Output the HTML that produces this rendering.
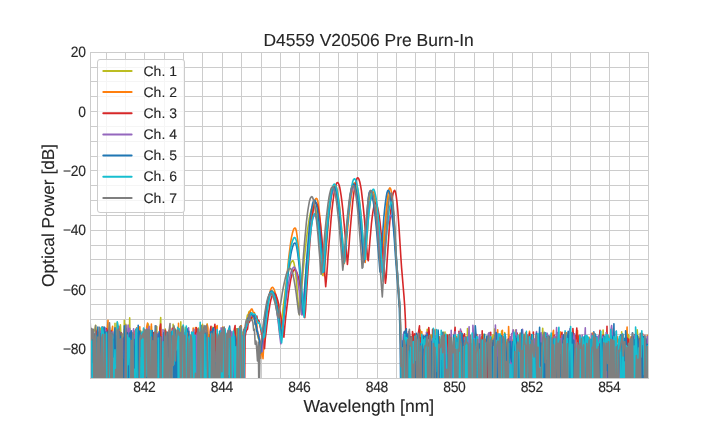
<!DOCTYPE html>
<html><head><meta charset="utf-8"><style>
html,body{margin:0;padding:0;background:#fff;}
svg{display:block;will-change:transform;text-rendering:geometricPrecision;}
text{stroke:#262626;stroke-width:0.12px;font-family:"Liberation Sans",sans-serif;}
</style></head><body>
<svg width="720" height="432" viewBox="0 0 720 432">
<defs><clipPath id="ax"><rect x="90.5" y="52.5" width="558" height="326"/></clipPath></defs>
<rect width="720" height="432" fill="#fff"/>
<g fill="#cccccc" shape-rendering="crispEdges"><rect x="106" y="52" width="1" height="326"/><rect x="125" y="52" width="1" height="326"/><rect x="144" y="52" width="1" height="326"/><rect x="164" y="52" width="1" height="326"/><rect x="183" y="52" width="1" height="326"/><rect x="202" y="52" width="1" height="326"/><rect x="222" y="52" width="1" height="326"/><rect x="241" y="52" width="1" height="326"/><rect x="261" y="52" width="1" height="326"/><rect x="280" y="52" width="1" height="326"/><rect x="299" y="52" width="1" height="326"/><rect x="319" y="52" width="1" height="326"/><rect x="338" y="52" width="1" height="326"/><rect x="357" y="52" width="1" height="326"/><rect x="377" y="52" width="1" height="326"/><rect x="396" y="52" width="1" height="326"/><rect x="415" y="52" width="1" height="326"/><rect x="435" y="52" width="1" height="326"/><rect x="454" y="52" width="1" height="326"/><rect x="474" y="52" width="1" height="326"/><rect x="493" y="52" width="1" height="326"/><rect x="512" y="52" width="1" height="326"/><rect x="532" y="52" width="1" height="326"/><rect x="551" y="52" width="1" height="326"/><rect x="570" y="52" width="1" height="326"/><rect x="590" y="52" width="1" height="326"/><rect x="609" y="52" width="1" height="326"/><rect x="629" y="52" width="1" height="326"/><rect x="90" y="363" width="558" height="1"/><rect x="90" y="348" width="558" height="1"/><rect x="90" y="334" width="558" height="1"/><rect x="90" y="319" width="558" height="1"/><rect x="90" y="304" width="558" height="1"/><rect x="90" y="289" width="558" height="1"/><rect x="90" y="274" width="558" height="1"/><rect x="90" y="259" width="558" height="1"/><rect x="90" y="245" width="558" height="1"/><rect x="90" y="230" width="558" height="1"/><rect x="90" y="215" width="558" height="1"/><rect x="90" y="200" width="558" height="1"/><rect x="90" y="185" width="558" height="1"/><rect x="90" y="170" width="558" height="1"/><rect x="90" y="156" width="558" height="1"/><rect x="90" y="141" width="558" height="1"/><rect x="90" y="126" width="558" height="1"/><rect x="90" y="111" width="558" height="1"/><rect x="90" y="96" width="558" height="1"/><rect x="90" y="81" width="558" height="1"/><rect x="90" y="67" width="558" height="1"/></g>
<g clip-path="url(#ax)" fill="none" stroke-width="1.6" stroke-linejoin="round" stroke-linecap="round">
<path d="M90.2,408.2 91.0,377.5 91.7,334.9 92.5,408.2 93.3,331.4 94.1,331.0 94.8,329.8 95.6,325.4 96.4,333.0 97.1,408.2 97.9,332.4 98.7,332.5 99.5,408.2 100.2,328.4 101.0,408.2 101.8,408.2 102.6,327.6 103.3,333.6 104.1,408.2 104.9,367.9 105.7,376.5 106.4,377.3 107.2,365.1 108.0,370.2 108.8,408.2 109.5,338.5 110.3,344.6 111.1,335.5 111.9,331.0 112.6,333.3 113.4,368.4 114.2,408.2 115.0,323.2 115.7,408.2 116.5,333.7 117.3,322.2 118.1,376.2 118.8,331.9 119.6,408.2 120.4,324.9 121.2,339.7 121.9,334.1 122.7,361.2 123.5,408.2 124.3,320.2 125.0,408.2 125.8,324.3 126.6,408.2 127.4,340.0 128.1,343.5 128.9,351.3 129.7,317.9 130.5,373.6 131.2,408.2 132.0,336.2 132.8,408.2 133.6,408.2 134.3,336.4 135.1,408.2 135.9,329.9 136.7,351.8 137.4,335.7 138.2,408.2 139.0,408.2 139.8,337.6 140.5,330.5 141.3,332.8 142.1,408.2 142.9,408.2 143.6,408.2 144.4,408.2 145.2,331.6 146.0,408.2 146.7,408.2 147.5,373.9 148.3,324.1 149.1,335.7 149.8,337.1 150.6,343.5 151.4,326.4 152.2,408.2 152.9,408.2 153.7,335.7 154.5,408.2 155.3,331.6 156.0,408.2 156.8,326.6 157.6,408.2 158.4,335.6 159.1,408.2 159.9,331.3 160.7,317.6 161.5,408.2 162.2,408.2 163.0,408.2 163.8,408.2 164.6,408.2 165.3,329.1 166.1,408.2 166.9,332.0 167.7,408.2 168.4,408.2 169.2,352.6 170.0,345.5 170.8,333.2 171.5,343.1 172.3,408.2 173.1,324.4 173.9,364.7 174.6,336.7 175.4,329.4 176.2,408.2 177.0,338.4 177.7,335.2 178.5,331.5 179.3,334.5 180.1,408.2 180.8,321.9 181.6,408.2 182.4,378.6 183.2,336.1 183.9,348.1 184.7,408.2 185.5,327.6 186.3,336.6 187.0,331.5 187.8,344.6 188.6,408.2 189.4,408.2 190.1,408.2 190.9,362.3 191.7,340.5 192.5,333.5 193.2,408.2 194.0,408.2 194.8,408.2 195.5,408.2 196.3,335.5 197.1,367.8 197.9,343.9 198.6,328.0 199.4,358.0 200.2,335.5 201.0,346.4 201.7,344.5 202.5,324.4 203.3,408.2 204.1,336.3 204.8,408.2 205.6,336.4 206.4,341.1 207.2,324.1 207.9,368.2 208.7,334.5 209.5,408.2 210.3,331.7 211.0,356.4 211.8,408.2 212.6,327.3 213.4,408.2 214.1,365.4 214.9,330.8 215.7,408.2 216.5,369.8 217.2,408.2 218.0,334.1 218.8,408.2 219.6,358.4 220.3,335.3 221.1,373.2 221.9,408.2 222.7,343.3 223.4,330.3 224.2,368.8 225.0,340.1 225.8,408.2 226.5,408.2 227.3,377.3 228.1,376.9 228.9,328.6 229.6,408.2 230.4,408.2 231.2,337.8 232.0,354.3 232.7,408.2 233.5,340.1 234.3,408.2 235.1,350.4 235.8,408.2 236.6,328.9 237.4,347.3 238.2,408.2 238.9,331.6 239.7,361.3 240.5,408.2 241.3,408.2 242.0,332.1 242.8,408.2 243.6,408.2 244.4,337.8 245.1,328.2 245.9,327.3 246.7,319.1 247.5,314.9 248.2,314.7 249.0,311.7 249.8,311.0 250.6,312.1 251.3,314.6 252.1,313.4 252.9,318.1 253.7,316.3 254.4,319.9 255.2,323.6 256.0,327.4 256.8,331.8 257.5,334.5 258.3,338.6 259.1,339.0 259.9,344.4 260.6,346.2 261.4,343.6 262.2,335.8 263.0,328.6 263.7,324.1 264.5,318.0 265.3,313.5 266.1,308.7 266.8,304.7 267.6,300.9 268.4,297.9 269.2,295.3 269.9,293.2 270.7,291.9 271.5,291.1 272.3,291.1 273.0,292.0 273.8,293.8 274.6,296.7 275.4,300.3 276.1,304.9 276.9,310.1 277.7,316.1 278.5,321.7 279.2,328.7 280.0,335.5 280.8,329.4 281.6,322.2 282.3,314.9 283.1,308.2 283.9,301.7 284.7,295.7 285.4,289.8 286.2,284.5 287.0,279.5 287.8,275.1 288.5,271.2 289.3,267.9 290.1,265.2 290.8,263.1 291.6,261.7 292.4,260.9 293.2,260.9 293.9,262.7 294.7,266.5 295.5,272.2 296.3,279.5 297.0,288.3 297.8,298.1 298.6,308.5 299.4,314.7 300.1,305.7 300.9,296.7 301.7,287.6 302.5,278.9 303.2,270.4 304.0,262.2 304.8,254.3 305.6,246.9 306.3,240.0 307.1,233.6 307.9,227.7 308.7,222.4 309.4,217.8 310.2,213.9 311.0,210.6 311.8,208.1 312.5,206.3 313.3,205.3 314.1,205.0 314.9,205.9 315.6,208.3 316.4,212.1 317.2,217.2 318.0,223.5 318.7,230.9 319.5,239.3 320.3,248.4 321.1,258.2 321.8,268.3 322.6,275.5 323.4,265.9 324.2,256.5 324.9,247.2 325.7,238.3 326.5,229.8 327.3,221.9 328.0,214.5 328.8,207.9 329.6,202.0 330.4,197.0 331.1,192.9 331.9,189.7 332.7,187.5 333.5,186.2 334.2,186.1 335.0,187.0 335.8,189.1 336.6,192.4 337.3,196.7 338.1,202.1 338.9,208.4 339.7,215.6 340.4,223.5 341.2,232.1 342.0,241.1 342.8,250.5 343.5,260.2 344.3,261.9 345.1,251.9 345.9,242.1 346.6,232.6 347.4,223.6 348.2,215.3 349.0,207.7 349.7,200.9 350.5,195.2 351.3,190.4 352.1,186.8 352.8,184.4 353.6,183.2 354.4,183.2 355.2,184.4 355.9,186.8 356.7,190.4 357.5,195.1 358.3,200.9 359.0,207.6 359.8,215.2 360.6,223.5 361.4,232.5 362.1,242.0 362.9,251.8 363.7,261.8 364.5,259.0 365.2,247.4 366.0,236.2 366.8,225.9 367.6,216.5 368.3,208.5 369.1,202.0 369.9,197.2 370.7,194.1 371.4,193.0 372.2,193.5 373.0,195.3 373.8,198.4 374.5,202.6 375.3,208.0 376.1,214.5 376.9,221.9 377.6,230.1 378.4,239.0 379.2,248.5 380.0,258.5 380.7,268.6 381.5,272.0 382.3,260.8 383.1,250.0 383.8,239.6 384.6,230.0 385.4,221.2 386.2,213.5 386.9,207.0 387.7,201.8 388.5,198.0 389.2,195.7 390.0,195.0 390.8,196.3 391.6,199.9 392.3,205.8 393.1,213.7 393.9,223.3 394.7,234.2 395.4,246.1 396.2,258.3 397.0,269.2 397.8,280.0 398.5,290.9 399.3,301.7 400.1,312.3 400.9,351.2 401.6,408.2 402.4,349.3 403.2,342.6 404.0,332.3 404.7,408.2 405.5,408.2 406.3,339.5 407.1,408.2 407.8,348.7 408.6,408.2 409.4,408.2 410.2,408.2 410.9,339.7 411.7,408.2 412.5,408.2 413.3,341.3 414.0,408.2 414.8,341.7 415.6,350.0 416.4,343.4 417.1,408.2 417.9,347.3 418.7,366.8 419.5,358.0 420.2,330.1 421.0,338.9 421.8,338.9 422.6,339.6 423.3,408.2 424.1,408.2 424.9,351.2 425.7,338.5 426.4,345.3 427.2,329.3 428.0,375.3 428.8,343.2 429.5,353.6 430.3,338.0 431.1,334.9 431.9,340.5 432.6,352.2 433.4,340.4 434.2,332.2 435.0,368.3 435.7,347.2 436.5,408.2 437.3,337.0 438.1,408.2 438.8,341.8 439.6,408.2 440.4,339.5 441.2,373.9 441.9,340.5 442.7,332.3 443.5,408.2 444.3,350.8 445.0,332.1 445.8,408.2 446.6,334.5 447.4,338.4 448.1,408.2 448.9,360.5 449.7,408.2 450.5,408.2 451.2,350.9 452.0,365.6 452.8,408.2 453.6,336.9 454.3,408.2 455.1,408.2 455.9,408.2 456.7,408.2 457.4,408.2 458.2,373.7 459.0,408.2 459.8,408.2 460.5,408.2 461.3,338.7 462.1,340.2 462.9,408.2 463.6,408.2 464.4,344.3 465.2,408.2 466.0,408.2 466.7,375.1 467.5,328.5 468.3,408.2 469.1,408.2 469.8,345.5 470.6,351.9 471.4,408.2 472.2,374.2 472.9,408.2 473.7,408.2 474.5,336.8 475.3,408.2 476.0,359.2 476.8,408.2 477.6,408.2 478.4,408.2 479.1,408.2 479.9,408.2 480.7,408.2 481.5,336.9 482.2,351.1 483.0,334.0 483.8,336.9 484.5,334.8 485.3,408.2 486.1,374.1 486.9,408.2 487.6,339.7 488.4,344.0 489.2,341.3 490.0,332.7 490.7,408.2 491.5,408.2 492.3,340.9 493.1,334.7 493.8,408.2 494.6,329.0 495.4,408.2 496.2,408.2 496.9,338.3 497.7,340.3 498.5,408.2 499.3,376.0 500.0,338.3 500.8,357.7 501.6,331.0 502.4,336.8 503.1,336.6 503.9,408.2 504.7,332.5 505.5,408.2 506.2,354.5 507.0,339.8 507.8,408.2 508.6,378.4 509.3,336.1 510.1,408.2 510.9,408.2 511.7,357.7 512.4,408.2 513.2,359.5 514.0,408.2 514.8,408.2 515.5,330.1 516.3,342.3 517.1,341.3 517.9,372.8 518.6,408.2 519.4,334.6 520.2,408.2 521.0,382.9 521.7,334.0 522.5,408.2 523.3,350.1 524.1,340.4 524.8,342.5 525.6,408.2 526.4,408.2 527.2,348.4 527.9,357.9 528.7,408.2 529.5,355.9 530.3,408.2 531.0,408.2 531.8,342.4 532.6,336.0 533.4,345.6 534.1,408.2 534.9,378.8 535.7,408.2 536.5,408.2 537.2,408.2 538.0,369.7 538.8,408.2 539.6,338.6 540.3,339.1 541.1,342.4 541.9,343.6 542.7,328.3 543.4,344.2 544.2,364.4 545.0,408.2 545.8,408.2 546.5,371.1 547.3,408.2 548.1,408.2 548.9,408.2 549.6,408.2 550.4,335.5 551.2,408.2 552.0,340.2 552.7,408.2 553.5,341.7 554.3,408.2 555.1,379.4 555.8,343.4 556.6,350.7 557.4,365.6 558.2,408.2 558.9,335.2 559.7,408.2 560.5,332.4 561.3,334.1 562.0,408.2 562.8,339.5 563.6,337.1 564.4,408.2 565.1,341.9 565.9,368.0 566.7,338.2 567.5,379.8 568.2,366.2 569.0,408.2 569.8,335.7 570.6,347.4 571.3,341.1 572.1,332.2 572.9,408.2 573.7,408.2 574.4,408.2 575.2,408.2 576.0,378.5 576.8,381.3 577.5,408.2 578.3,336.2 579.1,408.2 579.9,408.2 580.6,367.2 581.4,350.7 582.2,357.3 582.9,408.2 583.7,343.8 584.5,349.6 585.3,408.2 586.0,342.6 586.8,408.2 587.6,408.2 588.4,339.8 589.1,384.4 589.9,340.5 590.7,408.2 591.5,383.9 592.2,408.2 593.0,353.3 593.8,339.9 594.6,408.2 595.3,408.2 596.1,342.0 596.9,345.0 597.7,347.4 598.4,343.2 599.2,408.2 600.0,352.7 600.8,335.2 601.5,355.6 602.3,408.2 603.1,330.0 603.9,344.4 604.6,408.2 605.4,346.8 606.2,408.2 607.0,338.3 607.7,340.2 608.5,335.9 609.3,352.8 610.1,337.2 610.8,408.2 611.6,408.2 612.4,343.6 613.2,329.1 613.9,343.2 614.7,408.2 615.5,408.2 616.3,357.2 617.0,408.2 617.8,408.2 618.6,408.2 619.4,408.2 620.1,367.9 620.9,350.0 621.7,331.9 622.5,408.2 623.2,408.2 624.0,408.2 624.8,350.7 625.6,408.2 626.3,334.1 627.1,408.2 627.9,334.2 628.7,335.2 629.4,408.2 630.2,345.3 631.0,369.6 631.8,342.0 632.5,335.5 633.3,408.2 634.1,382.2 634.9,408.2 635.6,408.2 636.4,408.2 637.2,329.8 638.0,338.8 638.7,337.0 639.5,368.9 640.3,345.9 641.1,380.0 641.8,340.5 642.6,341.8 643.4,408.2 644.2,408.2 644.9,376.4 645.7,358.0 646.5,341.5 647.3,408.2 648.0,408.2" stroke="#bcbd22"/>
<path d="M90.2,329.4 91.0,408.2 91.7,346.0 92.5,408.2 93.3,333.7 94.1,383.8 94.8,356.8 95.6,408.2 96.4,330.8 97.1,330.0 97.9,408.2 98.7,408.2 99.5,338.4 100.2,331.9 101.0,408.2 101.8,408.2 102.6,383.8 103.3,328.5 104.1,331.1 104.9,408.2 105.7,355.0 106.4,373.1 107.2,331.6 108.0,320.3 108.8,408.2 109.5,408.2 110.3,408.2 111.1,340.3 111.9,330.3 112.6,326.4 113.4,372.4 114.2,408.2 115.0,336.8 115.7,408.2 116.5,408.2 117.3,323.6 118.1,408.2 118.8,366.6 119.6,358.1 120.4,339.0 121.2,408.2 121.9,363.4 122.7,338.7 123.5,408.2 124.3,329.4 125.0,334.2 125.8,329.0 126.6,408.2 127.4,408.2 128.1,374.4 128.9,408.2 129.7,338.5 130.5,372.9 131.2,339.3 132.0,408.2 132.8,338.1 133.6,370.9 134.3,408.2 135.1,331.0 135.9,384.5 136.7,327.7 137.4,408.2 138.2,364.0 139.0,330.6 139.8,326.7 140.5,408.2 141.3,333.0 142.1,339.0 142.9,408.2 143.6,328.7 144.4,408.2 145.2,331.9 146.0,341.8 146.7,326.9 147.5,323.1 148.3,408.2 149.1,334.8 149.8,408.2 150.6,348.2 151.4,324.0 152.2,408.2 152.9,408.2 153.7,408.2 154.5,333.1 155.3,378.4 156.0,332.3 156.8,375.0 157.6,333.4 158.4,408.2 159.1,382.2 159.9,408.2 160.7,353.3 161.5,336.5 162.2,408.2 163.0,408.2 163.8,408.2 164.6,336.9 165.3,336.2 166.1,408.2 166.9,408.2 167.7,335.5 168.4,363.5 169.2,334.3 170.0,332.8 170.8,332.6 171.5,408.2 172.3,329.4 173.1,328.3 173.9,356.3 174.6,328.3 175.4,351.0 176.2,408.2 177.0,330.4 177.7,408.2 178.5,323.3 179.3,408.2 180.1,375.2 180.8,343.4 181.6,408.2 182.4,408.2 183.2,363.7 183.9,348.0 184.7,339.1 185.5,335.9 186.3,408.2 187.0,408.2 187.8,408.2 188.6,334.9 189.4,408.2 190.1,361.6 190.9,380.1 191.7,369.2 192.5,346.3 193.2,328.0 194.0,408.2 194.8,408.2 195.5,327.6 196.3,408.2 197.1,348.4 197.9,408.2 198.6,350.5 199.4,333.0 200.2,335.8 201.0,408.2 201.7,408.2 202.5,333.9 203.3,408.2 204.1,332.3 204.8,331.6 205.6,408.2 206.4,335.3 207.2,324.3 207.9,327.7 208.7,408.2 209.5,337.0 210.3,408.2 211.0,408.2 211.8,358.6 212.6,331.3 213.4,408.2 214.1,408.2 214.9,337.7 215.7,327.0 216.5,326.6 217.2,325.7 218.0,408.2 218.8,337.3 219.6,408.2 220.3,408.2 221.1,408.2 221.9,329.3 222.7,327.1 223.4,328.0 224.2,355.7 225.0,408.2 225.8,370.9 226.5,408.2 227.3,408.2 228.1,336.6 228.9,408.2 229.6,408.2 230.4,408.2 231.2,408.2 232.0,408.2 232.7,339.9 233.5,382.2 234.3,408.2 235.1,333.5 235.8,333.0 236.6,408.2 237.4,408.2 238.2,336.9 238.9,338.5 239.7,326.7 240.5,334.3 241.3,325.8 242.0,408.2 242.8,408.2 243.6,408.2 244.4,335.8 245.1,330.3 245.9,325.6 246.7,323.6 247.5,320.9 248.2,318.9 249.0,312.9 249.8,312.7 250.6,310.6 251.3,309.0 252.1,309.0 252.9,311.3 253.7,312.6 254.4,312.6 255.2,317.2 256.0,319.3 256.8,323.2 257.5,332.3 258.3,334.1 259.1,336.1 259.9,344.7 260.6,358.3 261.4,351.6 262.2,349.2 263.0,358.8 263.7,345.9 264.5,335.0 265.3,327.4 266.1,319.7 266.8,312.5 267.6,305.8 268.4,300.4 269.2,295.9 269.9,292.2 270.7,289.5 271.5,287.9 272.3,287.3 273.0,287.6 273.8,288.8 274.6,290.7 275.4,293.4 276.1,296.8 276.9,300.8 277.7,305.4 278.5,310.6 279.2,315.7 280.0,322.1 280.8,327.3 281.6,335.2 282.3,334.5 283.1,323.3 283.9,313.3 284.7,303.3 285.4,293.7 286.2,284.4 287.0,275.8 287.8,267.5 288.5,259.9 289.3,253.0 290.1,246.8 290.8,241.5 291.6,236.9 292.4,233.3 293.2,230.6 293.9,228.8 294.7,228.0 295.5,228.3 296.3,230.7 297.0,235.1 297.8,241.4 298.6,249.5 299.4,259.1 300.1,270.1 300.9,282.3 301.7,295.2 302.5,308.4 303.2,314.7 304.0,303.8 304.8,293.2 305.6,282.7 306.3,272.6 307.1,262.8 307.9,253.4 308.7,244.6 309.4,236.4 310.2,228.9 311.0,222.0 311.8,216.0 312.5,210.8 313.3,206.4 314.1,203.0 314.9,200.5 315.6,198.9 316.4,198.3 317.2,199.1 318.0,202.0 318.7,206.9 319.5,213.7 320.3,222.1 321.1,232.1 321.8,243.2 322.6,255.2 323.4,267.9 324.2,275.8 324.9,265.5 325.7,255.4 326.5,245.6 327.3,236.2 328.0,227.3 328.8,219.0 329.6,211.4 330.4,204.6 331.1,198.8 331.9,193.9 332.7,190.0 333.5,187.2 334.2,185.5 335.0,185.0 335.8,185.7 336.6,187.7 337.3,191.0 338.1,195.5 338.9,201.2 339.7,207.9 340.4,215.6 341.2,224.1 342.0,233.3 342.8,243.0 343.5,253.1 344.3,263.5 345.1,258.9 345.9,249.5 346.6,240.3 347.4,231.5 348.2,223.2 349.0,215.3 349.7,208.2 350.5,201.8 351.3,196.2 352.1,191.5 352.8,187.8 353.6,185.1 354.4,183.4 355.2,182.8 355.9,183.4 356.7,185.2 357.5,188.3 358.3,192.6 359.0,198.0 359.8,204.5 360.6,211.9 361.4,220.1 362.1,229.1 362.9,238.6 363.7,248.5 364.5,258.8 365.2,262.5 366.0,251.1 366.8,239.9 367.6,229.4 368.3,219.8 369.1,211.3 369.9,204.2 370.7,198.5 371.4,194.5 372.2,192.2 373.0,191.7 373.8,192.8 374.5,195.3 375.3,199.3 376.1,204.6 376.9,211.1 377.6,218.7 378.4,227.4 379.2,236.9 380.0,247.1 380.7,257.8 381.5,268.8 382.3,271.2 383.1,257.9 383.8,245.1 384.6,232.9 385.4,221.7 386.2,211.8 386.9,203.4 387.7,196.6 388.5,191.7 389.2,188.8 390.0,187.8 390.8,189.2 391.6,193.3 392.3,199.9 393.1,208.7 393.9,219.3 394.7,231.5 395.4,244.7 396.2,258.3 397.0,269.2 397.8,280.0 398.5,290.9 399.3,301.7 400.1,312.8 400.9,350.7 401.6,408.2 402.4,408.2 403.2,408.2 404.0,408.2 404.7,341.2 405.5,408.2 406.3,342.8 407.1,338.4 407.8,340.5 408.6,331.6 409.4,359.0 410.2,349.5 410.9,408.2 411.7,408.2 412.5,357.6 413.3,339.8 414.0,352.9 414.8,354.7 415.6,334.5 416.4,338.4 417.1,408.2 417.9,408.2 418.7,408.2 419.5,334.7 420.2,355.4 421.0,408.2 421.8,331.5 422.6,369.7 423.3,408.2 424.1,338.9 424.9,408.2 425.7,335.3 426.4,343.9 427.2,340.2 428.0,345.0 428.8,408.2 429.5,340.1 430.3,361.0 431.1,408.2 431.9,408.2 432.6,408.2 433.4,408.2 434.2,341.3 435.0,329.7 435.7,382.9 436.5,408.2 437.3,408.2 438.1,336.2 438.8,408.2 439.6,336.7 440.4,345.9 441.2,364.1 441.9,408.2 442.7,408.2 443.5,374.1 444.3,376.3 445.0,374.3 445.8,336.1 446.6,377.0 447.4,408.2 448.1,377.9 448.9,355.9 449.7,342.0 450.5,340.7 451.2,370.6 452.0,374.2 452.8,408.2 453.6,408.2 454.3,342.0 455.1,351.0 455.9,408.2 456.7,336.2 457.4,376.8 458.2,408.2 459.0,340.9 459.8,408.2 460.5,336.6 461.3,408.2 462.1,334.7 462.9,346.2 463.6,353.8 464.4,371.9 465.2,336.3 466.0,375.1 466.7,350.3 467.5,336.7 468.3,408.2 469.1,408.2 469.8,408.2 470.6,339.4 471.4,408.2 472.2,366.9 472.9,339.7 473.7,334.8 474.5,378.9 475.3,333.0 476.0,408.2 476.8,408.2 477.6,408.2 478.4,383.7 479.1,380.1 479.9,408.2 480.7,377.8 481.5,408.2 482.2,408.2 483.0,366.2 483.8,367.8 484.5,344.4 485.3,339.4 486.1,347.9 486.9,361.3 487.6,408.2 488.4,341.1 489.2,359.2 490.0,408.2 490.7,408.2 491.5,338.0 492.3,356.0 493.1,345.7 493.8,362.3 494.6,408.2 495.4,333.5 496.2,408.2 496.9,347.8 497.7,329.8 498.5,373.1 499.3,353.9 500.0,408.2 500.8,343.2 501.6,352.3 502.4,330.2 503.1,363.4 503.9,408.2 504.7,336.2 505.5,408.2 506.2,342.4 507.0,408.2 507.8,370.5 508.6,326.6 509.3,347.2 510.1,346.0 510.9,408.2 511.7,408.2 512.4,340.1 513.2,344.1 514.0,335.6 514.8,338.2 515.5,339.8 516.3,343.5 517.1,370.2 517.9,408.2 518.6,373.1 519.4,342.8 520.2,336.2 521.0,408.2 521.7,408.2 522.5,360.7 523.3,408.2 524.1,408.2 524.8,408.2 525.6,332.8 526.4,408.2 527.2,408.2 527.9,408.2 528.7,341.9 529.5,331.3 530.3,354.3 531.0,348.3 531.8,336.4 532.6,408.2 533.4,369.1 534.1,371.8 534.9,408.2 535.7,408.2 536.5,341.0 537.2,338.2 538.0,346.0 538.8,408.2 539.6,374.1 540.3,408.2 541.1,408.2 541.9,408.2 542.7,337.4 543.4,408.2 544.2,342.2 545.0,408.2 545.8,337.3 546.5,336.5 547.3,408.2 548.1,342.5 548.9,408.2 549.6,338.8 550.4,347.7 551.2,345.1 552.0,373.7 552.7,334.3 553.5,330.4 554.3,372.4 555.1,336.8 555.8,340.9 556.6,408.2 557.4,363.8 558.2,345.2 558.9,342.8 559.7,408.2 560.5,332.0 561.3,343.4 562.0,336.7 562.8,408.2 563.6,408.2 564.4,408.2 565.1,408.2 565.9,408.2 566.7,332.8 567.5,348.8 568.2,375.1 569.0,331.8 569.8,345.7 570.6,341.6 571.3,369.4 572.1,364.6 572.9,336.3 573.7,408.2 574.4,408.2 575.2,408.2 576.0,408.2 576.8,408.2 577.5,330.5 578.3,408.2 579.1,408.2 579.9,408.2 580.6,336.0 581.4,347.8 582.2,408.2 582.9,344.3 583.7,408.2 584.5,365.5 585.3,336.9 586.0,408.2 586.8,371.9 587.6,340.2 588.4,346.7 589.1,337.3 589.9,370.8 590.7,341.1 591.5,377.3 592.2,333.1 593.0,341.9 593.8,333.0 594.6,358.4 595.3,343.9 596.1,408.2 596.9,341.6 597.7,338.1 598.4,408.2 599.2,408.2 600.0,408.2 600.8,375.0 601.5,382.3 602.3,408.2 603.1,366.2 603.9,408.2 604.6,348.2 605.4,336.8 606.2,341.6 607.0,340.8 607.7,349.1 608.5,408.2 609.3,408.2 610.1,408.2 610.8,334.3 611.6,408.2 612.4,345.1 613.2,408.2 613.9,372.7 614.7,340.6 615.5,408.2 616.3,357.7 617.0,336.4 617.8,342.0 618.6,340.2 619.4,348.1 620.1,343.7 620.9,336.7 621.7,341.9 622.5,408.2 623.2,369.4 624.0,355.9 624.8,408.2 625.6,408.2 626.3,340.9 627.1,327.1 627.9,408.2 628.7,408.2 629.4,408.2 630.2,408.2 631.0,336.7 631.8,408.2 632.5,408.2 633.3,341.9 634.1,408.2 634.9,341.6 635.6,408.2 636.4,344.2 637.2,408.2 638.0,408.2 638.7,375.8 639.5,408.2 640.3,345.6 641.1,335.7 641.8,408.2 642.6,361.0 643.4,346.3 644.2,340.0 644.9,408.2 645.7,345.9 646.5,408.2 647.3,335.3 648.0,351.2" stroke="#ff7f0e"/>
<path d="M90.2,324.8 91.0,360.5 91.7,340.2 92.5,408.2 93.3,408.2 94.1,340.6 94.8,408.2 95.6,335.9 96.4,331.2 97.1,336.1 97.9,351.0 98.7,350.2 99.5,408.2 100.2,333.5 101.0,408.2 101.8,329.1 102.6,327.0 103.3,364.4 104.1,332.0 104.9,408.2 105.7,362.8 106.4,328.5 107.2,330.5 108.0,334.3 108.8,334.8 109.5,408.2 110.3,408.2 111.1,330.7 111.9,408.2 112.6,408.2 113.4,408.2 114.2,408.2 115.0,408.2 115.7,346.2 116.5,356.9 117.3,368.8 118.1,338.8 118.8,326.4 119.6,408.2 120.4,357.2 121.2,332.9 121.9,379.4 122.7,408.2 123.5,340.4 124.3,337.1 125.0,408.2 125.8,366.3 126.6,368.9 127.4,349.8 128.1,408.2 128.9,332.9 129.7,334.0 130.5,332.8 131.2,408.2 132.0,340.6 132.8,369.0 133.6,330.6 134.3,408.2 135.1,408.2 135.9,329.3 136.7,408.2 137.4,408.2 138.2,333.1 139.0,365.9 139.8,360.8 140.5,408.2 141.3,335.2 142.1,367.0 142.9,339.3 143.6,408.2 144.4,408.2 145.2,408.2 146.0,337.6 146.7,334.2 147.5,408.2 148.3,361.7 149.1,330.5 149.8,408.2 150.6,351.2 151.4,408.2 152.2,408.2 152.9,408.2 153.7,332.6 154.5,408.2 155.3,342.0 156.0,408.2 156.8,333.9 157.6,336.8 158.4,408.2 159.1,365.3 159.9,328.2 160.7,324.1 161.5,368.4 162.2,408.2 163.0,408.2 163.8,408.2 164.6,338.2 165.3,330.3 166.1,333.3 166.9,408.2 167.7,377.1 168.4,408.2 169.2,330.4 170.0,339.3 170.8,340.7 171.5,408.2 172.3,328.4 173.1,367.3 173.9,408.2 174.6,380.5 175.4,408.2 176.2,408.2 177.0,373.5 177.7,340.7 178.5,408.2 179.3,408.2 180.1,336.5 180.8,408.2 181.6,408.2 182.4,408.2 183.2,331.8 183.9,335.3 184.7,408.2 185.5,408.2 186.3,377.0 187.0,408.2 187.8,358.4 188.6,330.9 189.4,359.1 190.1,408.2 190.9,351.9 191.7,408.2 192.5,408.2 193.2,365.1 194.0,338.5 194.8,332.6 195.5,354.5 196.3,327.6 197.1,329.2 197.9,343.3 198.6,357.2 199.4,408.2 200.2,334.7 201.0,332.0 201.7,330.2 202.5,408.2 203.3,408.2 204.1,337.3 204.8,332.9 205.6,408.2 206.4,337.9 207.2,333.1 207.9,408.2 208.7,377.4 209.5,408.2 210.3,330.5 211.0,326.2 211.8,408.2 212.6,408.2 213.4,351.4 214.1,331.5 214.9,324.2 215.7,340.7 216.5,408.2 217.2,375.2 218.0,408.2 218.8,408.2 219.6,408.2 220.3,408.2 221.1,365.1 221.9,408.2 222.7,344.3 223.4,336.8 224.2,367.3 225.0,408.2 225.8,408.2 226.5,408.2 227.3,333.1 228.1,333.8 228.9,408.2 229.6,408.2 230.4,330.8 231.2,408.2 232.0,334.0 232.7,367.3 233.5,408.2 234.3,329.5 235.1,325.6 235.8,374.2 236.6,340.6 237.4,336.9 238.2,408.2 238.9,408.2 239.7,408.2 240.5,326.0 241.3,334.5 242.0,408.2 242.8,343.9 243.6,339.0 244.4,408.2 245.1,337.0 245.9,331.9 246.7,330.0 247.5,329.1 248.2,323.2 249.0,322.6 249.8,321.2 250.6,317.8 251.3,318.6 252.1,316.5 252.9,314.8 253.7,315.6 254.4,314.9 255.2,315.6 256.0,318.8 256.8,316.1 257.5,320.8 258.3,320.2 259.1,321.1 259.9,325.6 260.6,328.6 261.4,332.8 262.2,338.2 263.0,340.1 263.7,341.3 264.5,348.6 265.3,338.4 266.1,332.3 266.8,325.8 267.6,319.8 268.4,314.0 269.2,309.0 269.9,304.5 270.7,300.5 271.5,297.5 272.3,295.2 273.0,293.7 273.8,293.0 274.6,293.2 275.4,294.0 276.1,295.4 276.9,297.7 277.7,300.3 278.5,303.8 279.2,307.6 280.0,312.0 280.8,316.1 281.6,321.3 282.3,326.6 283.1,331.7 283.9,337.2 284.7,327.9 285.4,320.2 286.2,313.2 287.0,306.2 287.8,299.8 288.5,293.7 289.3,288.3 290.1,283.4 290.8,279.2 291.6,275.7 292.4,273.0 293.2,271.0 293.9,269.9 294.7,269.6 295.5,270.1 296.3,271.2 297.0,272.9 297.8,275.4 298.6,278.3 299.4,281.9 300.1,285.9 300.9,290.4 301.7,295.3 302.5,300.6 303.2,306.1 304.0,311.6 304.8,317.7 305.6,309.5 306.3,296.3 307.1,283.6 307.9,271.4 308.7,259.7 309.4,248.8 310.2,238.8 311.0,229.8 311.8,222.0 312.5,215.3 313.3,210.0 314.1,206.1 314.9,203.6 315.6,202.5 316.4,202.9 317.2,204.5 318.0,207.4 318.7,211.4 319.5,216.6 320.3,222.8 321.1,230.0 321.8,238.1 322.6,246.9 323.4,256.2 324.2,266.1 324.9,276.2 325.7,286.6 326.5,277.9 327.3,267.1 328.0,256.5 328.8,246.3 329.6,236.5 330.4,227.2 331.1,218.6 331.9,210.7 332.7,203.7 333.5,197.6 334.2,192.4 335.0,188.3 335.8,185.3 336.6,183.3 337.3,182.5 338.1,182.9 338.9,184.5 339.7,187.2 340.4,191.2 341.2,196.2 342.0,202.3 342.8,209.3 343.5,217.1 344.3,225.7 345.1,234.8 345.9,244.4 346.6,254.3 347.4,264.4 348.2,256.4 349.0,246.1 349.7,236.1 350.5,226.5 351.3,217.5 352.1,209.1 352.8,201.5 353.6,194.9 354.4,189.2 355.2,184.6 355.9,181.1 356.7,178.9 357.5,177.8 358.3,178.0 359.0,179.4 359.8,182.0 360.6,185.8 361.4,190.7 362.1,196.7 362.9,203.6 363.7,211.4 364.5,219.9 365.2,229.1 366.0,238.7 366.8,248.8 367.6,259.1 368.3,260.7 369.1,250.8 369.9,241.2 370.7,232.3 371.4,224.2 372.2,217.2 373.0,211.4 373.8,207.1 374.5,204.3 375.3,203.1 376.1,203.3 376.9,204.8 377.6,207.5 378.4,211.3 379.2,216.2 380.0,222.2 380.7,229.0 381.5,236.7 382.3,245.1 383.1,254.1 383.8,263.6 384.6,273.3 385.4,283.3 386.2,277.1 386.9,264.3 387.7,251.9 388.5,240.2 389.2,229.2 390.0,219.4 390.8,210.7 391.6,203.5 392.3,197.7 393.1,193.6 393.9,191.1 394.7,190.4 395.4,191.9 396.2,195.8 397.0,202.1 397.8,210.5 398.5,220.6 399.3,232.1 400.1,244.7 400.9,257.8 401.6,267.9 402.4,277.4 403.2,287.0 404.0,296.4 404.7,306.0 405.5,321.7 406.3,358.3 407.1,340.4 407.8,408.2 408.6,408.2 409.4,333.5 410.2,408.2 410.9,336.6 411.7,408.2 412.5,331.6 413.3,335.4 414.0,343.8 414.8,333.7 415.6,408.2 416.4,335.9 417.1,408.2 417.9,335.7 418.7,331.1 419.5,325.9 420.2,408.2 421.0,337.9 421.8,375.1 422.6,353.6 423.3,335.5 424.1,408.2 424.9,408.2 425.7,408.2 426.4,381.7 427.2,332.9 428.0,338.6 428.8,327.5 429.5,335.4 430.3,370.8 431.1,342.1 431.9,408.2 432.6,329.4 433.4,376.1 434.2,380.1 435.0,350.0 435.7,352.2 436.5,408.2 437.3,342.1 438.1,367.4 438.8,342.9 439.6,408.2 440.4,408.2 441.2,381.7 441.9,408.2 442.7,352.1 443.5,335.2 444.3,335.3 445.0,408.2 445.8,408.2 446.6,343.4 447.4,335.0 448.1,408.2 448.9,343.3 449.7,334.5 450.5,341.5 451.2,338.0 452.0,369.4 452.8,408.2 453.6,381.7 454.3,335.7 455.1,327.3 455.9,361.0 456.7,408.2 457.4,383.1 458.2,408.2 459.0,331.2 459.8,342.4 460.5,408.2 461.3,331.2 462.1,342.6 462.9,373.5 463.6,336.3 464.4,333.7 465.2,408.2 466.0,408.2 466.7,408.2 467.5,339.7 468.3,366.1 469.1,358.4 469.8,343.0 470.6,352.9 471.4,355.1 472.2,408.2 472.9,376.3 473.7,358.7 474.5,359.6 475.3,408.2 476.0,340.0 476.8,334.6 477.6,373.4 478.4,408.2 479.1,408.2 479.9,337.9 480.7,341.4 481.5,408.2 482.2,330.7 483.0,408.2 483.8,342.3 484.5,350.8 485.3,382.6 486.1,408.2 486.9,408.2 487.6,343.0 488.4,350.5 489.2,381.6 490.0,408.2 490.7,332.3 491.5,408.2 492.3,363.1 493.1,342.7 493.8,408.2 494.6,408.2 495.4,408.2 496.2,408.2 496.9,383.1 497.7,360.1 498.5,340.1 499.3,408.2 500.0,340.0 500.8,344.9 501.6,408.2 502.4,341.2 503.1,340.2 503.9,408.2 504.7,408.2 505.5,408.2 506.2,374.2 507.0,408.2 507.8,408.2 508.6,339.0 509.3,348.4 510.1,350.3 510.9,408.2 511.7,349.5 512.4,347.4 513.2,408.2 514.0,357.5 514.8,408.2 515.5,408.2 516.3,337.2 517.1,333.1 517.9,355.1 518.6,408.2 519.4,335.9 520.2,408.2 521.0,344.0 521.7,408.2 522.5,408.2 523.3,337.3 524.1,341.7 524.8,374.8 525.6,359.2 526.4,342.0 527.2,349.0 527.9,336.2 528.7,342.3 529.5,333.0 530.3,342.2 531.0,408.2 531.8,408.2 532.6,369.2 533.4,332.0 534.1,408.2 534.9,358.5 535.7,345.2 536.5,335.6 537.2,341.7 538.0,339.6 538.8,341.2 539.6,408.2 540.3,408.2 541.1,341.2 541.9,408.2 542.7,360.8 543.4,368.3 544.2,345.7 545.0,352.5 545.8,336.8 546.5,408.2 547.3,374.6 548.1,346.8 548.9,336.9 549.6,408.2 550.4,408.2 551.2,408.2 552.0,408.2 552.7,344.6 553.5,368.8 554.3,335.3 555.1,408.2 555.8,342.7 556.6,339.4 557.4,408.2 558.2,356.2 558.9,352.3 559.7,339.4 560.5,367.7 561.3,335.9 562.0,332.4 562.8,408.2 563.6,408.2 564.4,361.0 565.1,339.0 565.9,338.8 566.7,356.3 567.5,408.2 568.2,408.2 569.0,361.7 569.8,338.5 570.6,332.9 571.3,408.2 572.1,408.2 572.9,328.6 573.7,339.6 574.4,370.7 575.2,335.7 576.0,338.8 576.8,328.1 577.5,355.7 578.3,354.6 579.1,335.5 579.9,341.8 580.6,345.4 581.4,408.2 582.2,367.6 582.9,369.7 583.7,337.5 584.5,408.2 585.3,349.3 586.0,337.4 586.8,342.3 587.6,339.5 588.4,347.2 589.1,357.5 589.9,357.9 590.7,341.5 591.5,338.8 592.2,339.3 593.0,408.2 593.8,408.2 594.6,408.2 595.3,379.2 596.1,354.9 596.9,341.4 597.7,408.2 598.4,408.2 599.2,339.6 600.0,330.4 600.8,408.2 601.5,408.2 602.3,338.0 603.1,335.0 603.9,338.3 604.6,408.2 605.4,369.6 606.2,364.0 607.0,326.2 607.7,408.2 608.5,408.2 609.3,342.7 610.1,408.2 610.8,408.2 611.6,408.2 612.4,408.2 613.2,345.2 613.9,372.6 614.7,338.5 615.5,343.5 616.3,408.2 617.0,345.0 617.8,408.2 618.6,376.4 619.4,363.2 620.1,338.4 620.9,346.1 621.7,336.8 622.5,379.1 623.2,338.8 624.0,408.2 624.8,340.0 625.6,408.2 626.3,408.2 627.1,338.0 627.9,344.4 628.7,339.0 629.4,408.2 630.2,408.2 631.0,408.2 631.8,337.4 632.5,344.5 633.3,344.1 634.1,408.2 634.9,334.5 635.6,344.2 636.4,339.5 637.2,340.0 638.0,353.0 638.7,343.0 639.5,338.6 640.3,408.2 641.1,372.5 641.8,408.2 642.6,333.9 643.4,373.7 644.2,362.7 644.9,346.2 645.7,367.2 646.5,340.1 647.3,408.2 648.0,338.0" stroke="#d62728"/>
<path d="M90.2,357.7 91.0,408.2 91.7,371.4 92.5,329.6 93.3,370.0 94.1,408.2 94.8,362.3 95.6,408.2 96.4,345.3 97.1,408.2 97.9,351.1 98.7,408.2 99.5,330.8 100.2,331.0 101.0,333.6 101.8,408.2 102.6,408.2 103.3,408.2 104.1,408.2 104.9,327.5 105.7,329.9 106.4,360.9 107.2,334.4 108.0,340.8 108.8,365.7 109.5,408.2 110.3,408.2 111.1,408.2 111.9,332.2 112.6,331.9 113.4,408.2 114.2,408.2 115.0,408.2 115.7,366.1 116.5,353.8 117.3,330.6 118.1,408.2 118.8,345.9 119.6,408.2 120.4,372.2 121.2,408.2 121.9,408.2 122.7,338.7 123.5,408.2 124.3,350.8 125.0,408.2 125.8,325.3 126.6,408.2 127.4,339.9 128.1,325.1 128.9,408.2 129.7,328.4 130.5,343.4 131.2,408.2 132.0,338.2 132.8,337.6 133.6,328.8 134.3,369.2 135.1,340.3 135.9,332.4 136.7,332.3 137.4,336.2 138.2,408.2 139.0,336.3 139.8,358.5 140.5,334.0 141.3,350.4 142.1,408.2 142.9,335.1 143.6,408.2 144.4,408.2 145.2,408.2 146.0,408.2 146.7,328.9 147.5,373.7 148.3,334.7 149.1,326.3 149.8,408.2 150.6,408.2 151.4,408.2 152.2,342.6 152.9,349.1 153.7,408.2 154.5,408.2 155.3,408.2 156.0,408.2 156.8,376.7 157.6,333.2 158.4,334.3 159.1,408.2 159.9,367.6 160.7,408.2 161.5,373.0 162.2,375.2 163.0,329.5 163.8,361.7 164.6,338.7 165.3,408.2 166.1,408.2 166.9,335.4 167.7,372.5 168.4,408.2 169.2,408.2 170.0,408.2 170.8,374.7 171.5,336.0 172.3,408.2 173.1,329.1 173.9,376.5 174.6,408.2 175.4,408.2 176.2,346.5 177.0,357.9 177.7,379.4 178.5,337.4 179.3,344.1 180.1,341.5 180.8,333.5 181.6,408.2 182.4,329.0 183.2,408.2 183.9,408.2 184.7,408.2 185.5,334.3 186.3,408.2 187.0,408.2 187.8,408.2 188.6,327.8 189.4,408.2 190.1,379.1 190.9,365.9 191.7,332.1 192.5,351.1 193.2,408.2 194.0,329.2 194.8,408.2 195.5,335.4 196.3,408.2 197.1,333.0 197.9,358.7 198.6,408.2 199.4,408.2 200.2,408.2 201.0,357.8 201.7,379.4 202.5,368.8 203.3,366.2 204.1,408.2 204.8,330.5 205.6,408.2 206.4,408.2 207.2,343.3 207.9,408.2 208.7,408.2 209.5,377.1 210.3,380.3 211.0,408.2 211.8,408.2 212.6,344.7 213.4,373.5 214.1,328.7 214.9,408.2 215.7,408.2 216.5,351.5 217.2,377.7 218.0,344.1 218.8,408.2 219.6,336.3 220.3,357.8 221.1,327.8 221.9,348.3 222.7,408.2 223.4,408.2 224.2,332.6 225.0,408.2 225.8,336.3 226.5,359.3 227.3,340.6 228.1,330.1 228.9,408.2 229.6,341.0 230.4,330.9 231.2,408.2 232.0,331.7 232.7,408.2 233.5,333.7 234.3,337.3 235.1,408.2 235.8,346.0 236.6,408.2 237.4,408.2 238.2,357.3 238.9,351.8 239.7,336.5 240.5,383.0 241.3,367.8 242.0,351.8 242.8,335.7 243.6,408.2 244.4,334.5 245.1,331.8 245.9,328.1 246.7,326.5 247.5,320.5 248.2,317.7 249.0,317.7 249.8,317.3 250.6,315.5 251.3,314.1 252.1,314.9 252.9,315.6 253.7,316.9 254.4,319.4 255.2,321.2 256.0,325.0 256.8,327.8 257.5,334.2 258.3,335.3 259.1,338.1 259.9,341.2 260.6,344.0 261.4,351.0 262.2,351.7 263.0,341.0 263.7,333.2 264.5,328.3 265.3,321.9 266.1,315.9 266.8,311.1 267.6,306.0 268.4,301.9 269.2,298.6 269.9,296.0 270.7,294.2 271.5,293.2 272.3,293.1 273.0,293.9 273.8,295.7 274.6,298.4 275.4,302.1 276.1,306.6 276.9,311.8 277.7,317.6 278.5,324.5 279.2,330.3 280.0,337.6 280.8,343.8 281.6,338.7 282.3,331.4 283.1,324.4 283.9,317.7 284.7,311.2 285.4,305.0 286.2,299.1 287.0,293.5 287.8,288.4 288.5,283.8 289.3,279.7 290.1,276.1 290.8,273.1 291.6,270.6 292.4,268.8 293.2,267.7 293.9,267.1 294.7,267.4 295.5,268.8 296.3,271.5 297.0,275.2 297.8,280.1 298.6,285.8 299.4,292.4 300.1,299.6 300.9,307.1 301.7,314.8 302.5,314.7 303.2,304.5 304.0,294.8 304.8,285.3 305.6,276.1 306.3,267.2 307.1,258.8 307.9,251.0 308.7,243.9 309.4,237.4 310.2,231.6 311.0,226.7 311.8,222.6 312.5,219.4 313.3,217.1 314.1,215.8 314.9,215.4 315.6,216.2 316.4,218.3 317.2,221.8 318.0,226.4 318.7,232.1 319.5,238.9 320.3,246.5 321.1,254.7 321.8,263.4 322.6,272.5 323.4,272.3 324.2,262.9 324.9,253.7 325.7,244.7 326.5,236.2 327.3,228.1 328.0,220.5 328.8,213.6 329.6,207.4 330.4,202.0 331.1,197.5 331.9,193.9 332.7,191.2 333.5,189.5 334.2,188.8 335.0,189.1 335.8,190.7 336.6,193.5 337.3,197.5 338.1,202.6 338.9,208.7 339.7,215.7 340.4,223.5 341.2,232.0 342.0,241.0 342.8,250.5 343.5,260.1 344.3,262.0 345.1,252.2 345.9,242.6 346.6,233.4 347.4,224.7 348.2,216.6 349.0,209.3 349.7,202.9 350.5,197.4 351.3,193.1 352.1,189.8 352.8,187.8 353.6,186.9 354.4,187.3 355.2,188.7 355.9,191.3 356.7,194.9 357.5,199.5 358.3,205.0 359.0,211.4 359.8,218.6 360.6,226.4 361.4,234.8 362.1,243.7 362.9,252.8 363.7,262.1 364.5,259.7 365.2,249.1 366.0,238.9 366.8,229.4 367.6,220.8 368.3,213.3 369.1,207.1 369.9,202.4 370.7,199.3 371.4,197.9 372.2,198.0 373.0,199.3 373.8,201.6 374.5,205.0 375.3,209.3 376.1,214.6 376.9,220.7 377.6,227.6 378.4,235.2 379.2,243.4 380.0,252.0 380.7,260.9 381.5,270.1 382.3,273.1 383.1,265.0 383.8,257.2 384.6,249.7 385.4,242.6 386.2,236.1 386.9,230.4 387.7,225.5 388.5,221.4 389.2,218.4 390.0,216.3 390.8,215.4 391.6,215.7 392.3,218.2 393.1,222.8 393.9,229.2 394.7,237.1 395.4,246.1 396.2,255.8 397.0,266.4 397.8,277.2 398.5,288.0 399.3,298.9 400.1,309.9 400.9,350.0 401.6,341.0 402.4,408.2 403.2,336.0 404.0,332.0 404.7,333.2 405.5,335.7 406.3,408.2 407.1,334.8 407.8,408.2 408.6,331.6 409.4,341.2 410.2,408.2 410.9,408.2 411.7,342.3 412.5,408.2 413.3,374.5 414.0,408.2 414.8,408.2 415.6,340.7 416.4,371.6 417.1,347.9 417.9,338.1 418.7,343.6 419.5,408.2 420.2,343.2 421.0,408.2 421.8,336.0 422.6,371.3 423.3,335.9 424.1,340.3 424.9,408.2 425.7,408.2 426.4,332.2 427.2,408.2 428.0,408.2 428.8,408.2 429.5,358.6 430.3,340.8 431.1,377.4 431.9,340.9 432.6,338.5 433.4,408.2 434.2,330.4 435.0,408.2 435.7,335.8 436.5,408.2 437.3,339.1 438.1,408.2 438.8,341.8 439.6,408.2 440.4,408.2 441.2,365.9 441.9,344.0 442.7,408.2 443.5,338.5 444.3,408.2 445.0,408.2 445.8,337.3 446.6,347.6 447.4,408.2 448.1,408.2 448.9,408.2 449.7,408.2 450.5,408.2 451.2,330.3 452.0,374.9 452.8,408.2 453.6,345.2 454.3,372.6 455.1,331.8 455.9,408.2 456.7,361.4 457.4,366.5 458.2,339.6 459.0,332.8 459.8,353.5 460.5,329.0 461.3,337.4 462.1,408.2 462.9,408.2 463.6,408.2 464.4,337.2 465.2,368.3 466.0,408.2 466.7,337.4 467.5,346.3 468.3,343.7 469.1,326.7 469.8,408.2 470.6,408.2 471.4,408.2 472.2,408.2 472.9,325.2 473.7,338.2 474.5,374.7 475.3,408.2 476.0,361.0 476.8,338.4 477.6,408.2 478.4,408.2 479.1,336.3 479.9,334.9 480.7,354.0 481.5,341.3 482.2,342.6 483.0,351.2 483.8,344.1 484.5,377.4 485.3,345.4 486.1,344.6 486.9,337.3 487.6,339.5 488.4,333.5 489.2,332.6 490.0,338.0 490.7,343.8 491.5,408.2 492.3,408.2 493.1,408.2 493.8,338.6 494.6,408.2 495.4,325.1 496.2,355.5 496.9,408.2 497.7,333.9 498.5,408.2 499.3,408.2 500.0,347.4 500.8,408.2 501.6,408.2 502.4,408.2 503.1,408.2 503.9,352.6 504.7,338.4 505.5,408.2 506.2,368.3 507.0,372.8 507.8,341.0 508.6,346.4 509.3,408.2 510.1,336.6 510.9,408.2 511.7,333.7 512.4,333.4 513.2,329.7 514.0,340.8 514.8,371.4 515.5,342.7 516.3,329.7 517.1,408.2 517.9,408.2 518.6,408.2 519.4,408.2 520.2,342.7 521.0,408.2 521.7,334.2 522.5,329.2 523.3,341.4 524.1,408.2 524.8,343.7 525.6,408.2 526.4,408.2 527.2,334.8 527.9,361.0 528.7,354.4 529.5,408.2 530.3,408.2 531.0,340.0 531.8,408.2 532.6,360.1 533.4,363.0 534.1,338.8 534.9,408.2 535.7,339.1 536.5,331.6 537.2,408.2 538.0,408.2 538.8,343.3 539.6,408.2 540.3,335.3 541.1,332.7 541.9,408.2 542.7,356.4 543.4,408.2 544.2,408.2 545.0,366.5 545.8,408.2 546.5,408.2 547.3,333.3 548.1,378.0 548.9,408.2 549.6,408.2 550.4,337.8 551.2,383.4 552.0,346.0 552.7,408.2 553.5,343.1 554.3,336.4 555.1,408.2 555.8,345.0 556.6,327.5 557.4,369.1 558.2,332.6 558.9,408.2 559.7,339.0 560.5,338.9 561.3,363.9 562.0,335.4 562.8,364.0 563.6,339.0 564.4,408.2 565.1,333.4 565.9,338.6 566.7,408.2 567.5,408.2 568.2,408.2 569.0,408.2 569.8,328.7 570.6,339.2 571.3,344.4 572.1,408.2 572.9,339.0 573.7,337.5 574.4,333.7 575.2,345.9 576.0,345.5 576.8,408.2 577.5,408.2 578.3,345.9 579.1,353.9 579.9,335.2 580.6,408.2 581.4,408.2 582.2,335.1 582.9,408.2 583.7,340.0 584.5,346.2 585.3,327.9 586.0,408.2 586.8,408.2 587.6,371.4 588.4,408.2 589.1,408.2 589.9,408.2 590.7,408.2 591.5,333.8 592.2,365.4 593.0,408.2 593.8,336.8 594.6,408.2 595.3,408.2 596.1,408.2 596.9,336.8 597.7,370.8 598.4,335.9 599.2,359.7 600.0,408.2 600.8,408.2 601.5,408.2 602.3,336.2 603.1,373.8 603.9,408.2 604.6,344.7 605.4,408.2 606.2,332.5 607.0,408.2 607.7,408.2 608.5,408.2 609.3,341.7 610.1,339.2 610.8,331.2 611.6,325.5 612.4,335.2 613.2,345.8 613.9,333.1 614.7,408.2 615.5,408.2 616.3,343.3 617.0,356.9 617.8,379.6 618.6,350.9 619.4,408.2 620.1,408.2 620.9,408.2 621.7,334.6 622.5,340.0 623.2,408.2 624.0,339.0 624.8,374.2 625.6,408.2 626.3,408.2 627.1,408.2 627.9,375.8 628.7,408.2 629.4,344.5 630.2,373.0 631.0,408.2 631.8,408.2 632.5,359.1 633.3,336.7 634.1,344.9 634.9,335.2 635.6,408.2 636.4,334.4 637.2,340.1 638.0,408.2 638.7,364.7 639.5,360.3 640.3,408.2 641.1,408.2 641.8,338.9 642.6,408.2 643.4,408.2 644.2,408.2 644.9,408.2 645.7,408.2 646.5,408.2 647.3,336.2 648.0,344.3" stroke="#9467bd"/>
<path d="M90.2,334.5 91.0,336.3 91.7,339.6 92.5,375.3 93.3,335.1 94.1,336.8 94.8,333.9 95.6,408.2 96.4,335.9 97.1,356.8 97.9,327.0 98.7,408.2 99.5,354.9 100.2,352.1 101.0,333.6 101.8,341.7 102.6,328.9 103.3,374.3 104.1,327.0 104.9,408.2 105.7,332.1 106.4,346.6 107.2,408.2 108.0,331.2 108.8,352.3 109.5,408.2 110.3,331.1 111.1,408.2 111.9,333.7 112.6,341.3 113.4,357.0 114.2,335.0 115.0,327.8 115.7,408.2 116.5,359.3 117.3,335.7 118.1,336.2 118.8,331.6 119.6,331.8 120.4,355.5 121.2,336.4 121.9,408.2 122.7,359.4 123.5,408.2 124.3,325.9 125.0,329.2 125.8,328.3 126.6,408.2 127.4,332.9 128.1,408.2 128.9,382.5 129.7,333.1 130.5,334.2 131.2,330.8 132.0,408.2 132.8,334.3 133.6,351.0 134.3,408.2 135.1,339.2 135.9,408.2 136.7,408.2 137.4,408.2 138.2,325.3 139.0,408.2 139.8,331.0 140.5,408.2 141.3,408.2 142.1,408.2 142.9,333.7 143.6,330.7 144.4,351.3 145.2,380.7 146.0,334.9 146.7,408.2 147.5,352.4 148.3,336.7 149.1,337.5 149.8,332.8 150.6,338.9 151.4,339.8 152.2,330.6 152.9,408.2 153.7,408.2 154.5,408.2 155.3,325.8 156.0,408.2 156.8,334.6 157.6,408.2 158.4,346.2 159.1,331.8 159.9,408.2 160.7,337.0 161.5,408.2 162.2,408.2 163.0,408.2 163.8,332.8 164.6,408.2 165.3,340.4 166.1,353.4 166.9,408.2 167.7,332.3 168.4,370.6 169.2,408.2 170.0,408.2 170.8,408.2 171.5,331.9 172.3,334.2 173.1,336.2 173.9,408.2 174.6,332.4 175.4,330.1 176.2,408.2 177.0,360.5 177.7,333.9 178.5,408.2 179.3,408.2 180.1,332.7 180.8,353.3 181.6,408.2 182.4,326.7 183.2,408.2 183.9,332.2 184.7,379.1 185.5,379.5 186.3,330.0 187.0,328.4 187.8,331.8 188.6,331.5 189.4,408.2 190.1,408.2 190.9,408.2 191.7,376.1 192.5,342.2 193.2,408.2 194.0,408.2 194.8,336.3 195.5,380.9 196.3,408.2 197.1,408.2 197.9,408.2 198.6,338.4 199.4,408.2 200.2,408.2 201.0,338.3 201.7,349.5 202.5,408.2 203.3,340.4 204.1,327.0 204.8,336.1 205.6,408.2 206.4,332.8 207.2,408.2 207.9,372.9 208.7,408.2 209.5,344.5 210.3,339.3 211.0,331.5 211.8,366.3 212.6,329.1 213.4,327.8 214.1,408.2 214.9,408.2 215.7,362.9 216.5,384.4 217.2,334.3 218.0,408.2 218.8,408.2 219.6,331.3 220.3,334.6 221.1,408.2 221.9,408.2 222.7,328.2 223.4,408.2 224.2,347.7 225.0,335.4 225.8,335.8 226.5,349.8 227.3,336.7 228.1,336.8 228.9,408.2 229.6,326.0 230.4,337.6 231.2,408.2 232.0,343.0 232.7,408.2 233.5,408.2 234.3,408.2 235.1,336.3 235.8,350.9 236.6,408.2 237.4,408.2 238.2,383.9 238.9,331.3 239.7,329.8 240.5,337.6 241.3,343.0 242.0,408.2 242.8,408.2 243.6,331.0 244.4,334.5 245.1,329.2 245.9,327.4 246.7,324.5 247.5,320.7 248.2,318.1 249.0,316.7 249.8,315.0 250.6,313.0 251.3,314.3 252.1,313.8 252.9,315.9 253.7,316.0 254.4,316.9 255.2,324.4 256.0,323.8 256.8,331.1 257.5,331.1 258.3,336.2 259.1,339.2 259.9,342.4 260.6,353.2 261.4,345.5 262.2,341.3 263.0,335.7 263.7,327.5 264.5,321.2 265.3,315.6 266.1,310.1 266.8,305.2 267.6,301.1 268.4,297.5 269.2,294.7 269.9,292.6 270.7,291.4 271.5,291.1 272.3,291.3 273.0,292.2 273.8,293.7 274.6,295.9 275.4,298.5 276.1,301.8 276.9,305.5 277.7,309.7 278.5,314.0 279.2,319.4 280.0,324.0 280.8,329.5 281.6,335.2 282.3,333.3 283.1,325.0 283.9,316.5 284.7,308.1 285.4,299.8 286.2,291.8 287.0,284.2 287.8,277.1 288.5,270.5 289.3,264.6 290.1,259.3 290.8,254.6 291.6,250.7 292.4,247.6 293.2,245.2 293.9,243.7 294.7,243.0 295.5,243.3 296.3,245.2 297.0,248.9 297.8,254.1 298.6,260.9 299.4,268.9 300.1,278.1 300.9,288.2 301.7,298.9 302.5,310.0 303.2,313.5 304.0,301.5 304.8,289.1 305.6,277.1 306.3,265.6 307.1,254.6 307.9,244.4 308.7,235.0 309.4,226.5 310.2,219.1 311.0,212.8 311.8,207.8 312.5,203.9 313.3,201.4 314.1,200.2 314.9,200.3 315.6,201.8 316.4,204.5 317.2,208.4 318.0,213.5 318.7,219.6 319.5,226.7 320.3,234.7 321.1,243.3 321.8,252.6 322.6,262.2 323.4,272.1 324.2,271.0 324.9,260.4 325.7,250.1 326.5,240.1 327.3,230.7 328.0,221.9 328.8,213.9 329.6,206.7 330.4,200.6 331.1,195.5 331.9,191.5 332.7,188.8 333.5,187.3 334.2,187.1 335.0,188.0 335.8,190.1 336.6,193.3 337.3,197.6 338.1,202.9 338.9,209.2 339.7,216.2 340.4,224.1 341.2,232.5 342.0,241.4 342.8,250.7 343.5,260.2 344.3,261.8 345.1,251.4 345.9,241.2 346.6,231.4 347.4,222.2 348.2,213.7 349.0,206.0 349.7,199.4 350.5,193.8 351.3,189.4 352.1,186.3 352.8,184.5 353.6,184.0 354.4,184.7 355.2,186.5 355.9,189.4 356.7,193.3 357.5,198.1 358.3,203.9 359.0,210.5 359.8,217.9 360.6,225.9 361.4,234.4 362.1,243.4 362.9,252.6 363.7,262.1 364.5,257.1 365.2,242.3 366.0,228.5 366.8,216.2 367.6,205.9 368.3,198.1 369.1,193.1 369.9,191.1 370.7,191.5 371.4,193.1 372.2,195.9 373.0,199.8 373.8,204.8 374.5,210.8 375.3,217.7 376.1,225.5 376.9,233.9 377.6,242.9 378.4,252.3 379.2,262.0 380.0,271.9 380.7,261.2 381.5,249.5 382.3,238.2 383.1,227.6 383.8,218.0 384.6,209.6 385.4,202.6 386.2,197.0 386.9,193.1 387.7,190.8 388.5,190.3 389.2,191.7 390.0,194.9 390.8,199.9 391.6,206.4 392.3,214.4 393.1,223.6 393.9,233.8 394.7,244.6 395.4,255.8 396.2,266.3 397.0,276.6 397.8,287.0 398.5,297.2 399.3,307.6 400.1,335.6 400.9,408.2 401.6,369.7 402.4,349.1 403.2,340.5 404.0,341.1 404.7,331.4 405.5,338.1 406.3,328.7 407.1,375.5 407.8,334.0 408.6,408.2 409.4,345.8 410.2,355.9 410.9,408.2 411.7,408.2 412.5,408.2 413.3,408.2 414.0,408.2 414.8,340.6 415.6,408.2 416.4,333.4 417.1,338.2 417.9,337.7 418.7,340.4 419.5,408.2 420.2,343.8 421.0,351.4 421.8,408.2 422.6,336.8 423.3,339.4 424.1,336.0 424.9,408.2 425.7,335.9 426.4,408.2 427.2,333.9 428.0,408.2 428.8,408.2 429.5,336.0 430.3,345.1 431.1,341.4 431.9,408.2 432.6,376.1 433.4,356.6 434.2,408.2 435.0,338.9 435.7,408.2 436.5,339.5 437.3,408.2 438.1,330.0 438.8,340.7 439.6,408.2 440.4,408.2 441.2,360.7 441.9,408.2 442.7,332.8 443.5,408.2 444.3,408.2 445.0,408.2 445.8,408.2 446.6,354.5 447.4,361.3 448.1,408.2 448.9,337.7 449.7,346.3 450.5,408.2 451.2,408.2 452.0,408.2 452.8,408.2 453.6,335.1 454.3,340.3 455.1,347.8 455.9,338.0 456.7,341.3 457.4,341.2 458.2,338.0 459.0,408.2 459.8,349.6 460.5,408.2 461.3,345.3 462.1,333.6 462.9,408.2 463.6,347.5 464.4,340.7 465.2,361.3 466.0,408.2 466.7,338.7 467.5,408.2 468.3,408.2 469.1,408.2 469.8,408.2 470.6,343.2 471.4,351.3 472.2,408.2 472.9,358.8 473.7,346.0 474.5,375.4 475.3,325.7 476.0,334.3 476.8,381.7 477.6,408.2 478.4,344.6 479.1,343.8 479.9,408.2 480.7,383.9 481.5,408.2 482.2,340.2 483.0,408.2 483.8,367.9 484.5,334.3 485.3,408.2 486.1,408.2 486.9,336.0 487.6,351.8 488.4,353.1 489.2,379.7 490.0,408.2 490.7,369.6 491.5,347.0 492.3,408.2 493.1,340.2 493.8,353.0 494.6,408.2 495.4,408.2 496.2,332.6 496.9,408.2 497.7,408.2 498.5,356.9 499.3,374.8 500.0,408.2 500.8,351.0 501.6,335.9 502.4,344.9 503.1,339.6 503.9,343.9 504.7,333.8 505.5,336.8 506.2,408.2 507.0,358.6 507.8,342.0 508.6,349.4 509.3,362.6 510.1,341.2 510.9,356.3 511.7,361.6 512.4,341.7 513.2,408.2 514.0,337.3 514.8,408.2 515.5,336.4 516.3,372.8 517.1,338.4 517.9,408.2 518.6,340.9 519.4,345.2 520.2,408.2 521.0,353.6 521.7,329.7 522.5,408.2 523.3,408.2 524.1,344.5 524.8,408.2 525.6,342.8 526.4,408.2 527.2,362.4 527.9,408.2 528.7,347.7 529.5,379.3 530.3,342.0 531.0,408.2 531.8,334.5 532.6,371.1 533.4,367.8 534.1,408.2 534.9,408.2 535.7,408.2 536.5,333.1 537.2,408.2 538.0,408.2 538.8,354.4 539.6,327.4 540.3,408.2 541.1,343.0 541.9,374.8 542.7,408.2 543.4,408.2 544.2,337.1 545.0,408.2 545.8,332.9 546.5,408.2 547.3,338.8 548.1,408.2 548.9,335.7 549.6,408.2 550.4,356.9 551.2,408.2 552.0,408.2 552.7,341.8 553.5,339.3 554.3,345.3 555.1,343.4 555.8,408.2 556.6,341.4 557.4,408.2 558.2,408.2 558.9,382.3 559.7,356.8 560.5,354.7 561.3,408.2 562.0,408.2 562.8,342.4 563.6,334.9 564.4,336.0 565.1,342.9 565.9,408.2 566.7,408.2 567.5,338.4 568.2,331.4 569.0,339.9 569.8,380.6 570.6,408.2 571.3,356.1 572.1,332.9 572.9,408.2 573.7,340.3 574.4,408.2 575.2,408.2 576.0,408.2 576.8,408.2 577.5,408.2 578.3,408.2 579.1,378.9 579.9,408.2 580.6,344.0 581.4,408.2 582.2,342.9 582.9,342.8 583.7,347.3 584.5,336.9 585.3,408.2 586.0,408.2 586.8,336.1 587.6,338.6 588.4,408.2 589.1,377.1 589.9,339.3 590.7,363.6 591.5,339.5 592.2,370.9 593.0,346.6 593.8,331.7 594.6,408.2 595.3,334.1 596.1,337.6 596.9,343.7 597.7,408.2 598.4,366.8 599.2,408.2 600.0,348.3 600.8,339.2 601.5,408.2 602.3,338.9 603.1,408.2 603.9,335.9 604.6,340.4 605.4,338.0 606.2,345.3 607.0,370.5 607.7,336.2 608.5,408.2 609.3,408.2 610.1,338.7 610.8,359.8 611.6,335.7 612.4,338.4 613.2,363.7 613.9,323.7 614.7,372.6 615.5,408.2 616.3,331.1 617.0,408.2 617.8,408.2 618.6,363.6 619.4,338.7 620.1,349.8 620.9,334.9 621.7,352.7 622.5,408.2 623.2,350.0 624.0,338.2 624.8,408.2 625.6,330.8 626.3,341.1 627.1,349.3 627.9,377.0 628.7,363.4 629.4,408.2 630.2,344.9 631.0,408.2 631.8,346.8 632.5,332.8 633.3,338.9 634.1,408.2 634.9,339.8 635.6,408.2 636.4,408.2 637.2,335.5 638.0,339.3 638.7,355.2 639.5,408.2 640.3,346.7 641.1,408.2 641.8,342.6 642.6,408.2 643.4,336.6 644.2,408.2 644.9,351.4 645.7,338.5 646.5,408.2 647.3,344.4 648.0,344.8" stroke="#1f77b4"/>
<path d="M90.2,329.3 91.0,335.6 91.7,341.0 92.5,408.2 93.3,363.8 94.1,408.2 94.8,408.2 95.6,336.0 96.4,379.9 97.1,408.2 97.9,384.0 98.7,343.2 99.5,408.2 100.2,375.7 101.0,383.6 101.8,327.0 102.6,328.5 103.3,333.0 104.1,408.2 104.9,408.2 105.7,408.2 106.4,332.9 107.2,379.6 108.0,408.2 108.8,408.2 109.5,327.5 110.3,408.2 111.1,334.7 111.9,335.1 112.6,337.0 113.4,408.2 114.2,375.1 115.0,349.8 115.7,408.2 116.5,408.2 117.3,321.8 118.1,326.3 118.8,352.4 119.6,408.2 120.4,408.2 121.2,338.6 121.9,408.2 122.7,408.2 123.5,408.2 124.3,408.2 125.0,408.2 125.8,408.2 126.6,408.2 127.4,335.1 128.1,364.8 128.9,337.7 129.7,339.5 130.5,408.2 131.2,377.7 132.0,354.3 132.8,335.5 133.6,408.2 134.3,369.2 135.1,408.2 135.9,330.1 136.7,328.4 137.4,408.2 138.2,408.2 139.0,408.2 139.8,357.8 140.5,408.2 141.3,335.6 142.1,332.1 142.9,408.2 143.6,328.1 144.4,337.1 145.2,333.2 146.0,376.4 146.7,348.5 147.5,334.1 148.3,408.2 149.1,376.9 149.8,360.6 150.6,330.5 151.4,408.2 152.2,366.9 152.9,365.0 153.7,408.2 154.5,334.3 155.3,368.2 156.0,408.2 156.8,408.2 157.6,408.2 158.4,338.0 159.1,408.2 159.9,408.2 160.7,378.5 161.5,408.2 162.2,408.2 163.0,341.7 163.8,372.6 164.6,408.2 165.3,408.2 166.1,336.4 166.9,355.0 167.7,408.2 168.4,358.2 169.2,408.2 170.0,333.6 170.8,351.6 171.5,408.2 172.3,331.1 173.1,365.4 173.9,364.1 174.6,334.1 175.4,341.0 176.2,350.0 177.0,338.3 177.7,327.4 178.5,408.2 179.3,328.9 180.1,408.2 180.8,335.2 181.6,408.2 182.4,380.5 183.2,325.0 183.9,329.5 184.7,408.2 185.5,362.0 186.3,326.1 187.0,408.2 187.8,408.2 188.6,339.1 189.4,336.3 190.1,373.3 190.9,408.2 191.7,332.5 192.5,408.2 193.2,332.1 194.0,408.2 194.8,335.2 195.5,408.2 196.3,408.2 197.1,408.2 197.9,344.2 198.6,408.2 199.4,408.2 200.2,322.2 201.0,408.2 201.7,328.9 202.5,408.2 203.3,408.2 204.1,358.5 204.8,334.1 205.6,408.2 206.4,408.2 207.2,337.8 207.9,359.8 208.7,337.7 209.5,408.2 210.3,408.2 211.0,334.0 211.8,336.3 212.6,355.2 213.4,408.2 214.1,332.3 214.9,408.2 215.7,408.2 216.5,408.2 217.2,329.6 218.0,408.2 218.8,408.2 219.6,349.2 220.3,330.7 221.1,408.2 221.9,408.2 222.7,334.8 223.4,408.2 224.2,338.0 225.0,328.7 225.8,335.6 226.5,384.0 227.3,335.0 228.1,374.3 228.9,328.1 229.6,408.2 230.4,357.5 231.2,337.3 232.0,408.2 232.7,340.7 233.5,331.1 234.3,343.1 235.1,408.2 235.8,346.9 236.6,408.2 237.4,356.8 238.2,328.5 238.9,408.2 239.7,408.2 240.5,326.3 241.3,331.3 242.0,408.2 242.8,336.3 243.6,408.2 244.4,333.3 245.1,329.3 245.9,328.3 246.7,324.3 247.5,321.6 248.2,319.9 249.0,320.4 249.8,315.9 250.6,314.2 251.3,313.1 252.1,313.0 252.9,314.4 253.7,314.2 254.4,314.0 255.2,314.6 256.0,317.2 256.8,319.1 257.5,321.1 258.3,323.2 259.1,322.5 259.9,324.8 260.6,327.6 261.4,329.8 262.2,332.3 263.0,333.2 263.7,337.9 264.5,336.4 265.3,328.8 266.1,321.6 266.8,314.6 267.6,308.1 268.4,302.8 269.2,298.3 269.9,295.0 270.7,292.8 271.5,292.0 272.3,292.3 273.0,293.3 273.8,295.2 274.6,297.8 275.4,301.0 276.1,305.2 276.9,309.7 277.7,314.5 278.5,320.1 279.2,326.8 280.0,333.1 280.8,338.9 281.6,342.8 282.3,335.4 283.1,324.3 283.9,315.1 284.7,305.5 285.4,296.4 286.2,287.7 287.0,279.5 287.8,271.9 288.5,264.9 289.3,258.5 290.1,253.0 290.8,248.2 291.6,244.3 292.4,241.2 293.2,239.1 293.9,237.8 294.7,237.5 295.5,238.4 296.3,240.6 297.0,244.1 297.8,248.9 298.6,254.8 299.4,261.8 300.1,269.7 300.9,278.4 301.7,287.8 302.5,297.6 303.2,307.9 304.0,317.3 304.8,305.8 305.6,294.4 306.3,283.1 307.1,272.3 307.9,262.0 308.7,252.5 309.4,243.8 310.2,236.0 311.0,229.3 311.8,223.7 312.5,219.3 313.3,216.1 314.1,214.2 314.9,213.7 315.6,214.5 316.4,216.7 317.2,220.2 318.0,225.0 318.7,230.9 319.5,237.8 320.3,245.6 321.1,254.1 321.8,263.1 322.6,272.3 323.4,272.0 324.2,262.1 324.9,252.4 325.7,243.0 326.5,234.0 327.3,225.4 328.0,217.5 328.8,210.2 329.6,203.7 330.4,198.0 331.1,193.2 331.9,189.4 332.7,186.6 333.5,184.8 334.2,184.0 335.0,184.4 335.8,185.9 336.6,188.6 337.3,192.3 338.1,197.2 338.9,203.0 339.7,209.7 340.4,217.2 341.2,225.5 342.0,234.2 342.8,243.4 343.5,253.0 344.3,262.6 345.1,254.6 345.9,244.4 346.6,234.5 347.4,225.0 348.2,216.1 349.0,207.9 349.7,200.6 350.5,194.1 351.3,188.7 352.1,184.4 352.8,181.3 353.6,179.4 354.4,178.8 355.2,179.3 355.9,180.9 356.7,183.6 357.5,187.3 358.3,192.1 359.0,197.7 359.8,204.2 360.6,211.5 361.4,219.4 362.1,228.0 362.9,236.9 363.7,246.2 364.5,255.8 365.2,259.3 366.0,248.6 366.8,238.3 367.6,228.4 368.3,219.3 369.1,211.1 369.9,204.0 370.7,198.2 371.4,193.7 372.2,190.8 373.0,189.3 373.8,189.4 374.5,191.0 375.3,193.9 376.1,198.2 376.9,203.8 377.6,210.6 378.4,218.5 379.2,227.4 380.0,237.1 380.7,247.5 381.5,258.4 382.3,269.7 383.1,281.2 383.8,271.3 384.6,260.3 385.4,249.6 386.2,239.7 386.9,230.5 387.7,222.4 388.5,215.5 389.2,209.9 390.0,205.7 390.8,203.1 391.6,202.0 392.3,203.3 393.1,208.2 393.9,216.4 394.7,227.4 395.4,240.5 396.2,254.7 397.0,266.4 397.8,277.2 398.5,288.1 399.3,298.9 400.1,309.6 400.9,347.7 401.6,408.2 402.4,347.8 403.2,408.2 404.0,382.1 404.7,334.4 405.5,344.2 406.3,337.5 407.1,338.3 407.8,340.3 408.6,343.9 409.4,408.2 410.2,364.6 410.9,345.5 411.7,408.2 412.5,342.2 413.3,341.6 414.0,373.1 414.8,336.3 415.6,360.2 416.4,335.5 417.1,373.2 417.9,345.8 418.7,338.9 419.5,408.2 420.2,352.4 421.0,371.9 421.8,334.3 422.6,342.8 423.3,339.8 424.1,348.1 424.9,338.0 425.7,408.2 426.4,343.2 427.2,408.2 428.0,372.2 428.8,347.2 429.5,381.2 430.3,408.2 431.1,408.2 431.9,408.2 432.6,382.7 433.4,328.4 434.2,339.1 435.0,340.6 435.7,371.8 436.5,329.6 437.3,339.4 438.1,367.2 438.8,408.2 439.6,408.2 440.4,408.2 441.2,330.4 441.9,336.7 442.7,338.5 443.5,408.2 444.3,341.1 445.0,339.6 445.8,334.3 446.6,357.5 447.4,408.2 448.1,408.2 448.9,350.0 449.7,408.2 450.5,408.2 451.2,408.2 452.0,408.2 452.8,408.2 453.6,341.5 454.3,339.9 455.1,334.8 455.9,339.4 456.7,365.1 457.4,408.2 458.2,334.5 459.0,339.9 459.8,408.2 460.5,332.5 461.3,408.2 462.1,379.7 462.9,408.2 463.6,346.6 464.4,408.2 465.2,338.2 466.0,347.3 466.7,408.2 467.5,337.1 468.3,408.2 469.1,408.2 469.8,408.2 470.6,343.8 471.4,408.2 472.2,333.0 472.9,408.2 473.7,348.4 474.5,338.5 475.3,408.2 476.0,362.3 476.8,336.5 477.6,337.9 478.4,408.2 479.1,408.2 479.9,349.3 480.7,408.2 481.5,375.9 482.2,340.1 483.0,408.2 483.8,408.2 484.5,408.2 485.3,343.0 486.1,408.2 486.9,408.2 487.6,408.2 488.4,408.2 489.2,361.2 490.0,339.9 490.7,336.8 491.5,408.2 492.3,408.2 493.1,408.2 493.8,346.6 494.6,408.2 495.4,408.2 496.2,340.4 496.9,343.5 497.7,344.2 498.5,334.1 499.3,383.8 500.0,333.9 500.8,337.6 501.6,408.2 502.4,408.2 503.1,343.7 503.9,408.2 504.7,334.0 505.5,408.2 506.2,373.6 507.0,408.2 507.8,408.2 508.6,343.2 509.3,408.2 510.1,408.2 510.9,364.6 511.7,408.2 512.4,408.2 513.2,353.6 514.0,332.3 514.8,337.1 515.5,346.5 516.3,408.2 517.1,408.2 517.9,335.0 518.6,341.9 519.4,341.4 520.2,373.0 521.0,408.2 521.7,365.6 522.5,334.4 523.3,408.2 524.1,408.2 524.8,340.9 525.6,408.2 526.4,331.4 527.2,408.2 527.9,337.9 528.7,371.8 529.5,336.8 530.3,350.9 531.0,350.1 531.8,358.5 532.6,334.7 533.4,408.2 534.1,347.8 534.9,408.2 535.7,408.2 536.5,341.3 537.2,346.1 538.0,333.6 538.8,348.1 539.6,408.2 540.3,367.4 541.1,408.2 541.9,408.2 542.7,361.7 543.4,334.5 544.2,336.9 545.0,333.2 545.8,344.0 546.5,359.0 547.3,337.2 548.1,408.2 548.9,408.2 549.6,408.2 550.4,379.5 551.2,333.1 552.0,345.3 552.7,408.2 553.5,408.2 554.3,338.7 555.1,348.4 555.8,338.7 556.6,366.7 557.4,339.8 558.2,338.4 558.9,327.4 559.7,408.2 560.5,408.2 561.3,377.2 562.0,378.3 562.8,344.5 563.6,343.1 564.4,358.8 565.1,330.8 565.9,335.8 566.7,408.2 567.5,338.5 568.2,408.2 569.0,352.1 569.8,341.1 570.6,326.5 571.3,380.1 572.1,344.4 572.9,408.2 573.7,379.8 574.4,408.2 575.2,408.2 576.0,348.2 576.8,357.6 577.5,348.7 578.3,408.2 579.1,408.2 579.9,335.7 580.6,408.2 581.4,338.1 582.2,408.2 582.9,336.8 583.7,345.0 584.5,408.2 585.3,335.3 586.0,342.0 586.8,335.6 587.6,353.0 588.4,337.3 589.1,408.2 589.9,339.5 590.7,408.2 591.5,408.2 592.2,335.9 593.0,408.2 593.8,379.7 594.6,334.3 595.3,408.2 596.1,408.2 596.9,337.5 597.7,349.1 598.4,343.2 599.2,342.6 600.0,339.6 600.8,331.2 601.5,408.2 602.3,408.2 603.1,352.2 603.9,337.0 604.6,408.2 605.4,344.4 606.2,334.9 607.0,357.5 607.7,334.8 608.5,355.2 609.3,338.6 610.1,408.2 610.8,329.5 611.6,346.8 612.4,408.2 613.2,375.1 613.9,336.5 614.7,338.2 615.5,408.2 616.3,331.5 617.0,408.2 617.8,372.4 618.6,343.7 619.4,336.3 620.1,336.4 620.9,408.2 621.7,408.2 622.5,333.9 623.2,334.6 624.0,408.2 624.8,362.0 625.6,408.2 626.3,345.5 627.1,408.2 627.9,346.8 628.7,408.2 629.4,408.2 630.2,380.0 631.0,408.2 631.8,363.8 632.5,339.1 633.3,408.2 634.1,346.1 634.9,408.2 635.6,327.0 636.4,340.6 637.2,360.8 638.0,408.2 638.7,348.1 639.5,408.2 640.3,341.4 641.1,356.9 641.8,330.7 642.6,344.2 643.4,338.4 644.2,374.7 644.9,336.6 645.7,359.3 646.5,408.2 647.3,345.9 648.0,346.3" stroke="#17becf"/>
<path d="M90.2,321.9 91.0,339.9 91.7,328.6 92.5,338.1 93.3,329.4 94.1,408.2 94.8,342.0 95.6,325.5 96.4,408.2 97.1,408.2 97.9,337.0 98.7,408.2 99.5,327.2 100.2,408.2 101.0,408.2 101.8,337.9 102.6,334.6 103.3,408.2 104.1,408.2 104.9,334.2 105.7,408.2 106.4,408.2 107.2,408.2 108.0,408.2 108.8,333.7 109.5,322.7 110.3,337.0 111.1,408.2 111.9,332.8 112.6,408.2 113.4,408.2 114.2,408.2 115.0,408.2 115.7,369.5 116.5,408.2 117.3,330.1 118.1,408.2 118.8,328.7 119.6,408.2 120.4,339.4 121.2,408.2 121.9,333.3 122.7,408.2 123.5,408.2 124.3,408.2 125.0,408.2 125.8,325.4 126.6,408.2 127.4,408.2 128.1,408.2 128.9,408.2 129.7,408.2 130.5,408.2 131.2,340.5 132.0,408.2 132.8,332.8 133.6,408.2 134.3,408.2 135.1,408.2 135.9,408.2 136.7,408.2 137.4,408.2 138.2,408.2 139.0,408.2 139.8,339.0 140.5,334.9 141.3,338.7 142.1,336.4 142.9,333.6 143.6,337.6 144.4,329.6 145.2,408.2 146.0,329.9 146.7,331.3 147.5,329.8 148.3,408.2 149.1,329.5 149.8,408.2 150.6,408.2 151.4,337.0 152.2,408.2 152.9,340.9 153.7,408.2 154.5,332.4 155.3,408.2 156.0,325.7 156.8,408.2 157.6,408.2 158.4,408.2 159.1,408.2 159.9,408.2 160.7,337.4 161.5,408.2 162.2,408.2 163.0,408.2 163.8,408.2 164.6,330.5 165.3,408.2 166.1,342.6 166.9,332.9 167.7,408.2 168.4,408.2 169.2,330.4 170.0,323.6 170.8,408.2 171.5,408.2 172.3,335.9 173.1,365.4 173.9,325.7 174.6,329.8 175.4,361.0 176.2,340.9 177.0,334.9 177.7,330.0 178.5,331.0 179.3,335.4 180.1,332.2 180.8,408.2 181.6,335.2 182.4,326.2 183.2,329.5 183.9,408.2 184.7,335.5 185.5,408.2 186.3,408.2 187.0,408.2 187.8,338.7 188.6,408.2 189.4,408.2 190.1,343.8 190.9,335.0 191.7,340.6 192.5,408.2 193.2,408.2 194.0,408.2 194.8,408.2 195.5,373.2 196.3,408.2 197.1,408.2 197.9,329.8 198.6,329.2 199.4,408.2 200.2,332.2 201.0,332.7 201.7,325.6 202.5,408.2 203.3,338.0 204.1,325.5 204.8,332.4 205.6,326.2 206.4,325.5 207.2,335.2 207.9,408.2 208.7,408.2 209.5,408.2 210.3,408.2 211.0,408.2 211.8,333.4 212.6,338.0 213.4,408.2 214.1,331.5 214.9,408.2 215.7,408.2 216.5,334.4 217.2,339.0 218.0,408.2 218.8,335.6 219.6,408.2 220.3,336.7 221.1,332.6 221.9,371.8 222.7,328.0 223.4,332.1 224.2,327.1 225.0,408.2 225.8,408.2 226.5,334.1 227.3,408.2 228.1,330.7 228.9,337.3 229.6,330.9 230.4,338.7 231.2,408.2 232.0,408.2 232.7,408.2 233.5,408.2 234.3,383.0 235.1,408.2 235.8,408.2 236.6,408.2 237.4,328.7 238.2,408.2 238.9,408.2 239.7,332.1 240.5,326.3 241.3,363.8 242.0,408.2 242.8,408.2 243.6,329.7 244.4,328.7 245.1,326.4 245.9,321.6 246.7,319.6 247.5,322.8 248.2,323.9 249.0,314.6 249.8,317.1 250.6,319.9 251.3,319.8 252.1,319.9 252.9,322.5 253.7,330.4 254.4,329.4 255.2,344.3 256.0,341.0 256.8,350.1 257.5,360.9 258.3,342.1 259.1,408.2 259.9,352.2 260.6,345.1 261.4,340.7 262.2,333.9 263.0,326.8 263.7,321.1 264.5,315.6 265.3,310.1 266.1,305.6 266.8,302.0 267.6,298.8 268.4,296.3 269.2,294.7 269.9,293.7 270.7,293.5 271.5,294.0 272.3,295.1 273.0,296.7 273.8,299.0 274.6,301.6 275.4,304.7 276.1,308.1 276.9,311.9 277.7,316.0 278.5,317.8 279.2,312.6 280.0,307.4 280.8,302.4 281.6,297.6 282.3,292.9 283.1,288.5 283.9,284.5 284.7,280.8 285.4,277.6 286.2,274.8 287.0,272.4 287.8,270.6 288.5,269.3 289.3,268.5 290.1,268.3 290.8,268.8 291.6,270.2 292.4,272.4 293.2,275.4 293.9,279.1 294.7,283.5 295.5,288.5 296.3,294.1 297.0,300.0 297.8,306.1 298.6,312.7 299.4,314.8 300.1,303.4 300.9,291.7 301.7,280.3 302.5,269.3 303.2,258.7 304.0,248.7 304.8,239.4 305.6,230.8 306.3,223.0 307.1,216.1 307.9,210.2 308.7,205.3 309.4,201.4 310.2,198.7 311.0,197.1 311.8,196.6 312.5,197.4 313.3,199.4 314.1,202.7 314.9,207.2 315.6,212.9 316.4,219.5 317.2,227.1 318.0,235.5 318.7,244.6 319.5,254.2 320.3,264.1 321.1,274.3 321.8,269.3 322.6,259.7 323.4,250.2 324.2,241.1 324.9,232.4 325.7,224.3 326.5,216.7 327.3,209.8 328.0,203.8 328.8,198.5 329.6,194.2 330.4,190.9 331.1,188.5 331.9,187.2 332.7,186.9 333.5,187.8 334.2,189.8 335.0,193.0 335.8,197.2 336.6,202.4 337.3,208.6 338.1,215.7 338.9,223.5 339.7,232.0 340.4,241.0 341.2,250.5 342.0,260.2 342.8,270.1 343.5,263.5 344.3,253.3 345.1,243.4 345.9,233.9 346.6,224.9 347.4,216.7 348.2,209.2 349.0,202.6 349.7,196.9 350.5,192.4 351.3,189.0 352.1,186.7 352.8,185.7 353.6,185.9 354.4,187.6 355.2,190.8 355.9,195.3 356.7,201.1 357.5,208.2 358.3,216.4 359.0,225.5 359.8,235.4 360.6,246.0 361.4,257.0 362.1,268.3 362.9,267.3 363.7,255.3 364.5,243.6 365.2,232.6 366.0,222.4 366.8,213.4 367.6,205.6 368.3,199.3 369.1,194.7 369.9,191.7 370.7,190.4 371.4,190.8 372.2,192.4 373.0,195.1 373.8,199.1 374.5,204.1 375.3,210.2 376.1,217.3 376.9,225.2 377.6,234.0 378.4,243.6 379.2,253.7 380.0,264.3 380.7,275.3 381.5,286.5 382.3,297.0 383.1,282.9 383.8,269.1 384.6,255.8 385.4,243.2 386.2,231.7 386.9,221.3 387.7,212.3 388.5,204.9 389.2,199.2 390.0,195.3 390.8,193.2 391.6,193.2 392.3,196.8 393.1,204.1 393.9,214.6 394.7,227.7 395.4,242.6 396.2,258.3 397.0,269.2 397.8,280.0 398.5,290.9 399.3,301.8 400.1,312.7 400.9,366.5 401.6,348.0 402.4,384.5 403.2,408.2 404.0,340.2 404.7,343.4 405.5,346.7 406.3,408.2 407.1,408.2 407.8,339.8 408.6,349.6 409.4,329.2 410.2,342.5 410.9,346.0 411.7,336.9 412.5,408.2 413.3,364.4 414.0,408.2 414.8,341.7 415.6,336.3 416.4,338.2 417.1,408.2 417.9,408.2 418.7,333.4 419.5,408.2 420.2,408.2 421.0,346.0 421.8,408.2 422.6,408.2 423.3,408.2 424.1,357.6 424.9,345.7 425.7,345.9 426.4,342.7 427.2,336.6 428.0,408.2 428.8,408.2 429.5,335.6 430.3,337.4 431.1,408.2 431.9,408.2 432.6,408.2 433.4,343.6 434.2,350.2 435.0,347.4 435.7,408.2 436.5,408.2 437.3,408.2 438.1,408.2 438.8,344.3 439.6,344.6 440.4,347.5 441.2,344.4 441.9,335.7 442.7,352.6 443.5,332.3 444.3,339.7 445.0,408.2 445.8,408.2 446.6,369.2 447.4,408.2 448.1,382.1 448.9,335.1 449.7,340.3 450.5,408.2 451.2,337.6 452.0,345.0 452.8,352.9 453.6,346.6 454.3,337.8 455.1,408.2 455.9,349.2 456.7,408.2 457.4,408.2 458.2,349.3 459.0,351.2 459.8,333.6 460.5,340.4 461.3,344.1 462.1,408.2 462.9,408.2 463.6,408.2 464.4,343.1 465.2,344.3 466.0,337.1 466.7,342.6 467.5,342.5 468.3,345.1 469.1,408.2 469.8,408.2 470.6,335.3 471.4,408.2 472.2,408.2 472.9,408.2 473.7,339.8 474.5,346.5 475.3,408.2 476.0,353.9 476.8,348.5 477.6,339.6 478.4,355.3 479.1,408.2 479.9,408.2 480.7,339.6 481.5,408.2 482.2,408.2 483.0,408.2 483.8,338.0 484.5,341.5 485.3,408.2 486.1,408.2 486.9,342.2 487.6,342.9 488.4,335.5 489.2,408.2 490.0,345.4 490.7,339.9 491.5,408.2 492.3,408.2 493.1,408.2 493.8,408.2 494.6,335.2 495.4,408.2 496.2,350.7 496.9,345.5 497.7,341.2 498.5,341.3 499.3,408.2 500.0,337.4 500.8,408.2 501.6,408.2 502.4,408.2 503.1,337.1 503.9,338.2 504.7,345.2 505.5,408.2 506.2,361.5 507.0,408.2 507.8,339.2 508.6,408.2 509.3,408.2 510.1,408.2 510.9,408.2 511.7,408.2 512.4,408.2 513.2,408.2 514.0,408.2 514.8,351.6 515.5,408.2 516.3,408.2 517.1,345.3 517.9,342.1 518.6,347.7 519.4,351.3 520.2,333.1 521.0,408.2 521.7,350.6 522.5,408.2 523.3,347.6 524.1,334.2 524.8,343.4 525.6,345.4 526.4,408.2 527.2,344.5 527.9,335.4 528.7,353.7 529.5,408.2 530.3,344.5 531.0,408.2 531.8,340.7 532.6,340.1 533.4,352.5 534.1,356.9 534.9,346.1 535.7,341.9 536.5,335.2 537.2,408.2 538.0,347.2 538.8,408.2 539.6,368.3 540.3,408.2 541.1,408.2 541.9,347.0 542.7,338.3 543.4,335.3 544.2,332.3 545.0,362.7 545.8,338.3 546.5,408.2 547.3,408.2 548.1,336.3 548.9,338.6 549.6,408.2 550.4,408.2 551.2,408.2 552.0,337.7 552.7,408.2 553.5,344.9 554.3,408.2 555.1,408.2 555.8,346.0 556.6,337.1 557.4,382.0 558.2,343.4 558.9,408.2 559.7,342.1 560.5,340.1 561.3,354.3 562.0,408.2 562.8,408.2 563.6,340.2 564.4,408.2 565.1,332.6 565.9,408.2 566.7,408.2 567.5,343.8 568.2,408.2 569.0,408.2 569.8,408.2 570.6,408.2 571.3,408.2 572.1,408.2 572.9,381.7 573.7,408.2 574.4,370.4 575.2,344.0 576.0,408.2 576.8,408.2 577.5,342.9 578.3,408.2 579.1,345.3 579.9,343.9 580.6,348.2 581.4,338.9 582.2,408.2 582.9,349.2 583.7,344.9 584.5,408.2 585.3,379.0 586.0,408.2 586.8,343.6 587.6,382.8 588.4,347.5 589.1,340.1 589.9,408.2 590.7,408.2 591.5,354.4 592.2,347.4 593.0,347.3 593.8,332.7 594.6,408.2 595.3,337.7 596.1,408.2 596.9,349.4 597.7,408.2 598.4,346.8 599.2,380.7 600.0,408.2 600.8,408.2 601.5,408.2 602.3,408.2 603.1,408.2 603.9,342.7 604.6,346.8 605.4,408.2 606.2,343.2 607.0,343.9 607.7,363.5 608.5,341.8 609.3,408.2 610.1,376.6 610.8,339.4 611.6,408.2 612.4,339.9 613.2,408.2 613.9,340.7 614.7,408.2 615.5,408.2 616.3,346.7 617.0,408.2 617.8,408.2 618.6,350.4 619.4,351.8 620.1,347.8 620.9,343.8 621.7,339.9 622.5,334.6 623.2,355.9 624.0,342.1 624.8,341.8 625.6,352.5 626.3,408.2 627.1,347.2 627.9,408.2 628.7,343.2 629.4,408.2 630.2,344.3 631.0,338.0 631.8,408.2 632.5,333.0 633.3,408.2 634.1,408.2 634.9,408.2 635.6,408.2 636.4,355.5 637.2,408.2 638.0,359.2 638.7,408.2 639.5,348.7 640.3,333.2 641.1,408.2 641.8,408.2 642.6,408.2 643.4,408.2 644.2,408.2 644.9,335.2 645.7,408.2 646.5,408.2 647.3,346.5 648.0,408.2" stroke="#7f7f7f"/>
</g>
<g fill="#cccccc" shape-rendering="crispEdges">
<rect x="90" y="52" width="559" height="1"/><rect x="90" y="378" width="559" height="1"/>
<rect x="90" y="52" width="1" height="327"/><rect x="648" y="52" width="1" height="327"/>
</g>
<g fill="#262626" font-size="13.9" letter-spacing="-0.35" text-anchor="middle"><text transform="translate(144.40,391.6) scale(1,1.08)">842</text><text transform="translate(221.88,391.6) scale(1,1.08)">844</text><text transform="translate(299.36,391.6) scale(1,1.08)">846</text><text transform="translate(376.84,391.6) scale(1,1.08)">848</text><text transform="translate(454.32,391.6) scale(1,1.08)">850</text><text transform="translate(531.80,391.6) scale(1,1.08)">852</text><text transform="translate(609.28,391.6) scale(1,1.08)">854</text></g>
<g fill="#262626" font-size="13.9" letter-spacing="-0.35" text-anchor="end"><text transform="translate(85.6,353.50) scale(1,1.08)">−80</text><text transform="translate(85.6,294.90) scale(1,1.08)">−60</text><text transform="translate(85.6,235.00) scale(1,1.08)">−40</text><text transform="translate(85.6,175.90) scale(1,1.08)">−20</text><text transform="translate(85.6,116.50) scale(1,1.08)">0</text><text transform="translate(85.6,56.70) scale(1,1.08)">20</text></g>
<text x="368.6" y="46" font-size="17.45" text-anchor="middle" fill="#262626">D4559 V20506 Pre Burn-In</text>
<text x="368.8" y="412" font-size="17.5" text-anchor="middle" fill="#262626">Wavelength [nm]</text>
<text transform="translate(53.8,215.4) rotate(-90)" font-size="17.3" text-anchor="middle" fill="#262626">Optical Power [dB]</text>
<rect x="97.5" y="59.5" width="87" height="153" rx="2.5" ry="2.5" fill="#fff" fill-opacity="0.8" stroke="#cccccc" stroke-width="1"/>
<g font-size="14" fill="#262626"><line x1="103.3" y1="70.90" x2="131.6" y2="70.90" stroke="#bcbd22" stroke-width="2" stroke-linecap="round"/><text x="143.5" y="75.50">Ch. 1</text><line x1="103.3" y1="92.07" x2="131.6" y2="92.07" stroke="#ff7f0e" stroke-width="2" stroke-linecap="round"/><text x="143.5" y="96.67">Ch. 2</text><line x1="103.3" y1="113.24" x2="131.6" y2="113.24" stroke="#d62728" stroke-width="2" stroke-linecap="round"/><text x="143.5" y="117.84">Ch. 3</text><line x1="103.3" y1="134.41" x2="131.6" y2="134.41" stroke="#9467bd" stroke-width="2" stroke-linecap="round"/><text x="143.5" y="139.01">Ch. 4</text><line x1="103.3" y1="155.58" x2="131.6" y2="155.58" stroke="#1f77b4" stroke-width="2" stroke-linecap="round"/><text x="143.5" y="160.18">Ch. 5</text><line x1="103.3" y1="176.75" x2="131.6" y2="176.75" stroke="#17becf" stroke-width="2" stroke-linecap="round"/><text x="143.5" y="181.35">Ch. 6</text><line x1="103.3" y1="197.92" x2="131.6" y2="197.92" stroke="#7f7f7f" stroke-width="2" stroke-linecap="round"/><text x="143.5" y="202.52">Ch. 7</text></g>
</svg>
</body></html>
